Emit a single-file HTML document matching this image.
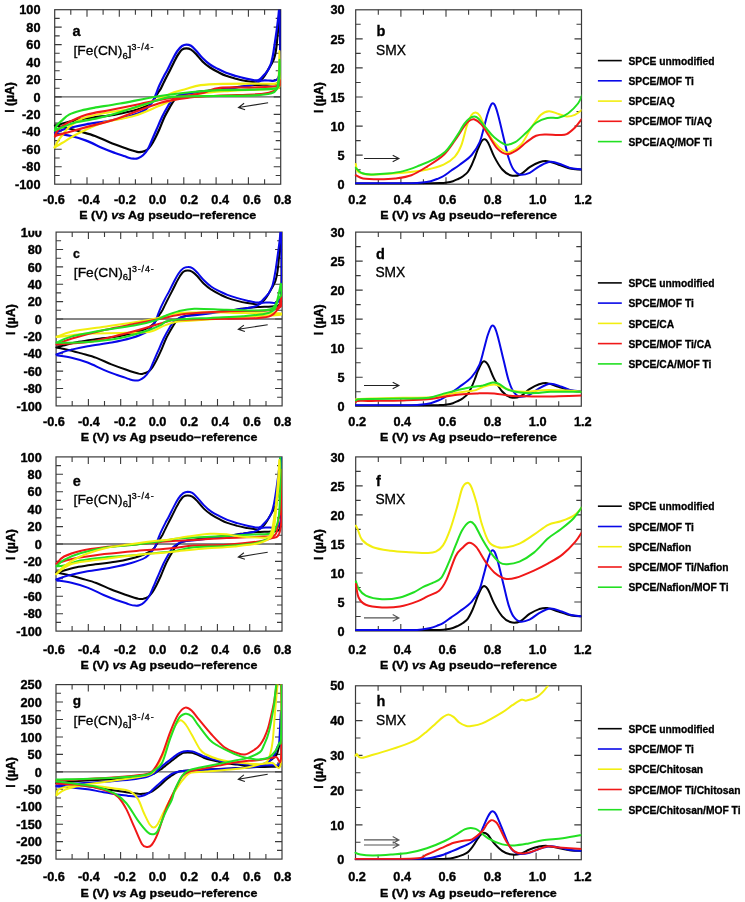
<!DOCTYPE html>
<html><head><meta charset="utf-8"><style>
html,body{margin:0;padding:0;background:#fff;}
svg{display:block;filter:blur(0.35px);}
text{font-family:"Liberation Sans", sans-serif;fill:#000;}
.tl{font-size:11.9px;font-weight:bold;stroke:#000;stroke-width:0.35px;}
.at{font-size:11.6px;font-weight:bold;stroke:#000;stroke-width:0.35px;}
.yt{font-size:12.2px;font-weight:bold;stroke:#000;stroke-width:0.35px;}
.pl{font-size:14.5px;font-weight:bold;stroke:#000;stroke-width:0.3px;}
.sm{font-size:13.8px;stroke:#000;stroke-width:0.3px;}
.lg{font-size:10.25px;font-weight:bold;stroke:#000;stroke-width:0.3px;}
</style></head><body>
<svg width="745" height="902" viewBox="0 0 745 902">
<defs><clipPath id="clipa"><rect x="51.7" y="9.7" width="229.0" height="174.5"/></clipPath><clipPath id="clipc"><rect x="53.1" y="232.1" width="229.0" height="173.8"/></clipPath><clipPath id="clipe"><rect x="53.0" y="456.9" width="229.0" height="174.2"/></clipPath><clipPath id="clipg"><rect x="53.0" y="684.6" width="229.0" height="174.5"/></clipPath><clipPath id="clipb"><rect x="352.7" y="9.8" width="228.8" height="174.4"/></clipPath><clipPath id="clipd"><rect x="352.7" y="232.1" width="228.6" height="174.1"/></clipPath><clipPath id="clipf"><rect x="352.7" y="456.9" width="228.6" height="174.1"/></clipPath><clipPath id="cliph"><rect x="352.5" y="685.8" width="228.8" height="173.9"/></clipPath></defs>
<rect width="745" height="902" fill="#fff"/>
<line x1="54.7" y1="96.9" x2="280.7" y2="96.9" stroke="#5e5e5e" stroke-width="1.3"/>
<path d="M54.7 175.5h5M280.7 175.5h-5M54.7 166.8h7M280.7 166.8h-7M54.7 158.0h5M280.7 158.0h-5M54.7 149.3h7M280.7 149.3h-7M54.7 140.6h5M280.7 140.6h-5M54.7 131.8h7M280.7 131.8h-7M54.7 123.1h5M280.7 123.1h-5M54.7 114.4h7M280.7 114.4h-7M54.7 105.7h5M280.7 105.7h-5M54.7 96.9h7M280.7 96.9h-7M54.7 88.2h5M280.7 88.2h-5M54.7 79.5h7M280.7 79.5h-7M54.7 70.8h5M280.7 70.8h-5M54.7 62.0h7M280.7 62.0h-7M54.7 53.3h5M280.7 53.3h-5M54.7 44.6h7M280.7 44.6h-7M54.7 35.9h5M280.7 35.9h-5M54.7 27.1h7M280.7 27.1h-7M54.7 18.4h5M280.7 18.4h-5M70.8 184.2v-5M70.8 9.7v5M87.0 184.2v-7M87.0 9.7v7M103.1 184.2v-5M103.1 9.7v5M119.3 184.2v-7M119.3 9.7v7M135.4 184.2v-5M135.4 9.7v5M151.6 184.2v-7M151.6 9.7v7M167.7 184.2v-5M167.7 9.7v5M183.8 184.2v-7M183.8 9.7v7M200.0 184.2v-5M200.0 9.7v5M216.1 184.2v-7M216.1 9.7v7M232.3 184.2v-5M232.3 9.7v5M248.4 184.2v-7M248.4 9.7v7M264.6 184.2v-5M264.6 9.7v5" stroke="#3a3a3a" stroke-width="1.1" fill="none"/>
<rect x="54.7" y="9.7" width="226.0" height="174.5" stroke="#3a3a3a" stroke-width="1.2" fill="none"/>
<text x="40.5" y="188.8" text-anchor="end" class="tl" textLength="25.48" lengthAdjust="spacingAndGlyphs">-100</text>
<text x="40.5" y="171.3" text-anchor="end" class="tl" textLength="18.40" lengthAdjust="spacingAndGlyphs">-80</text>
<text x="40.5" y="153.9" text-anchor="end" class="tl" textLength="18.40" lengthAdjust="spacingAndGlyphs">-60</text>
<text x="40.5" y="136.4" text-anchor="end" class="tl" textLength="18.40" lengthAdjust="spacingAndGlyphs">-40</text>
<text x="40.5" y="119.0" text-anchor="end" class="tl" textLength="18.40" lengthAdjust="spacingAndGlyphs">-20</text>
<text x="40.5" y="101.5" text-anchor="end" class="tl" textLength="7.08" lengthAdjust="spacingAndGlyphs">0</text>
<text x="40.5" y="84.1" text-anchor="end" class="tl" textLength="14.16" lengthAdjust="spacingAndGlyphs">20</text>
<text x="40.5" y="66.6" text-anchor="end" class="tl" textLength="14.16" lengthAdjust="spacingAndGlyphs">40</text>
<text x="40.5" y="49.2" text-anchor="end" class="tl" textLength="14.16" lengthAdjust="spacingAndGlyphs">60</text>
<text x="40.5" y="31.7" text-anchor="end" class="tl" textLength="14.16" lengthAdjust="spacingAndGlyphs">80</text>
<text x="40.5" y="14.3" text-anchor="end" class="tl" textLength="21.24" lengthAdjust="spacingAndGlyphs">100</text>
<text x="54.0" y="203.8" text-anchor="middle" class="tl" textLength="21.94" lengthAdjust="spacingAndGlyphs">-0.6</text>
<text x="88.9" y="203.8" text-anchor="middle" class="tl" textLength="21.94" lengthAdjust="spacingAndGlyphs">-0.4</text>
<text x="124.9" y="203.8" text-anchor="middle" class="tl" textLength="21.94" lengthAdjust="spacingAndGlyphs">-0.2</text>
<text x="157.5" y="203.8" text-anchor="middle" class="tl" textLength="17.70" lengthAdjust="spacingAndGlyphs">0.0</text>
<text x="189.2" y="203.8" text-anchor="middle" class="tl" textLength="17.70" lengthAdjust="spacingAndGlyphs">0.2</text>
<text x="220.2" y="203.8" text-anchor="middle" class="tl" textLength="17.70" lengthAdjust="spacingAndGlyphs">0.4</text>
<text x="251.9" y="203.8" text-anchor="middle" class="tl" textLength="17.70" lengthAdjust="spacingAndGlyphs">0.6</text>
<text x="282.6" y="203.8" text-anchor="middle" class="tl" textLength="17.70" lengthAdjust="spacingAndGlyphs">0.8</text>
<text x="167.7" y="218.8" text-anchor="middle" class="at" textLength="176.8" lengthAdjust="spacingAndGlyphs">E (V) <tspan font-style="italic">vs</tspan> Ag pseudo&#8722;reference</text>
<text transform="translate(13.6,97.5) rotate(-90)" text-anchor="middle" class="yt">I (&#181;A)</text>
<line x1="56.1" y1="319.0" x2="282.1" y2="319.0" stroke="#5e5e5e" stroke-width="1.3"/>
<path d="M56.1 397.2h5M282.1 397.2h-5M56.1 388.5h7M282.1 388.5h-7M56.1 379.8h5M282.1 379.8h-5M56.1 371.1h7M282.1 371.1h-7M56.1 362.4h5M282.1 362.4h-5M56.1 353.8h7M282.1 353.8h-7M56.1 345.1h5M282.1 345.1h-5M56.1 336.4h7M282.1 336.4h-7M56.1 327.7h5M282.1 327.7h-5M56.1 319.0h7M282.1 319.0h-7M56.1 310.3h5M282.1 310.3h-5M56.1 301.6h7M282.1 301.6h-7M56.1 292.9h5M282.1 292.9h-5M56.1 284.2h7M282.1 284.2h-7M56.1 275.5h5M282.1 275.5h-5M56.1 266.9h7M282.1 266.9h-7M56.1 258.2h5M282.1 258.2h-5M56.1 249.5h7M282.1 249.5h-7M56.1 240.8h5M282.1 240.8h-5M72.2 405.9v-5M72.2 232.1v5M88.4 405.9v-7M88.4 232.1v7M104.5 405.9v-5M104.5 232.1v5M120.7 405.9v-7M120.7 232.1v7M136.8 405.9v-5M136.8 232.1v5M153.0 405.9v-7M153.0 232.1v7M169.1 405.9v-5M169.1 232.1v5M185.2 405.9v-7M185.2 232.1v7M201.4 405.9v-5M201.4 232.1v5M217.5 405.9v-7M217.5 232.1v7M233.7 405.9v-5M233.7 232.1v5M249.8 405.9v-7M249.8 232.1v7M266.0 405.9v-5M266.0 232.1v5" stroke="#3a3a3a" stroke-width="1.1" fill="none"/>
<rect x="56.1" y="232.1" width="226.0" height="173.8" stroke="#3a3a3a" stroke-width="1.2" fill="none"/>
<text x="41.9" y="410.5" text-anchor="end" class="tl" textLength="25.48" lengthAdjust="spacingAndGlyphs">-100</text>
<text x="41.9" y="393.1" text-anchor="end" class="tl" textLength="18.40" lengthAdjust="spacingAndGlyphs">-80</text>
<text x="41.9" y="375.7" text-anchor="end" class="tl" textLength="18.40" lengthAdjust="spacingAndGlyphs">-60</text>
<text x="41.9" y="358.4" text-anchor="end" class="tl" textLength="18.40" lengthAdjust="spacingAndGlyphs">-40</text>
<text x="41.9" y="341.0" text-anchor="end" class="tl" textLength="18.40" lengthAdjust="spacingAndGlyphs">-20</text>
<text x="41.9" y="323.6" text-anchor="end" class="tl" textLength="7.08" lengthAdjust="spacingAndGlyphs">0</text>
<text x="41.9" y="306.2" text-anchor="end" class="tl" textLength="14.16" lengthAdjust="spacingAndGlyphs">20</text>
<text x="41.9" y="288.8" text-anchor="end" class="tl" textLength="14.16" lengthAdjust="spacingAndGlyphs">40</text>
<text x="41.9" y="271.5" text-anchor="end" class="tl" textLength="14.16" lengthAdjust="spacingAndGlyphs">60</text>
<text x="41.9" y="254.1" text-anchor="end" class="tl" textLength="14.16" lengthAdjust="spacingAndGlyphs">80</text>
<text x="41.9" y="236.7" text-anchor="end" class="tl" textLength="21.24" lengthAdjust="spacingAndGlyphs">100</text>
<text x="54.0" y="426.0" text-anchor="middle" class="tl" textLength="21.94" lengthAdjust="spacingAndGlyphs">-0.6</text>
<text x="88.9" y="426.0" text-anchor="middle" class="tl" textLength="21.94" lengthAdjust="spacingAndGlyphs">-0.4</text>
<text x="124.9" y="426.0" text-anchor="middle" class="tl" textLength="21.94" lengthAdjust="spacingAndGlyphs">-0.2</text>
<text x="157.5" y="426.0" text-anchor="middle" class="tl" textLength="17.70" lengthAdjust="spacingAndGlyphs">0.0</text>
<text x="189.2" y="426.0" text-anchor="middle" class="tl" textLength="17.70" lengthAdjust="spacingAndGlyphs">0.2</text>
<text x="220.2" y="426.0" text-anchor="middle" class="tl" textLength="17.70" lengthAdjust="spacingAndGlyphs">0.4</text>
<text x="251.9" y="426.0" text-anchor="middle" class="tl" textLength="17.70" lengthAdjust="spacingAndGlyphs">0.6</text>
<text x="282.6" y="426.0" text-anchor="middle" class="tl" textLength="17.70" lengthAdjust="spacingAndGlyphs">0.8</text>
<text x="169.1" y="441.0" text-anchor="middle" class="at" textLength="176.8" lengthAdjust="spacingAndGlyphs">E (V) <tspan font-style="italic">vs</tspan> Ag pseudo&#8722;reference</text>
<text transform="translate(15.0,319.6) rotate(-90)" text-anchor="middle" class="yt">I (&#181;A)</text>
<line x1="56.0" y1="544.0" x2="282.0" y2="544.0" stroke="#5e5e5e" stroke-width="1.3"/>
<path d="M56.0 622.4h5M282.0 622.4h-5M56.0 613.7h7M282.0 613.7h-7M56.0 605.0h5M282.0 605.0h-5M56.0 596.3h7M282.0 596.3h-7M56.0 587.5h5M282.0 587.5h-5M56.0 578.8h7M282.0 578.8h-7M56.0 570.1h5M282.0 570.1h-5M56.0 561.4h7M282.0 561.4h-7M56.0 552.7h5M282.0 552.7h-5M56.0 544.0h7M282.0 544.0h-7M56.0 535.3h5M282.0 535.3h-5M56.0 526.6h7M282.0 526.6h-7M56.0 517.9h5M282.0 517.9h-5M56.0 509.2h7M282.0 509.2h-7M56.0 500.4h5M282.0 500.4h-5M56.0 491.7h7M282.0 491.7h-7M56.0 483.0h5M282.0 483.0h-5M56.0 474.3h7M282.0 474.3h-7M56.0 465.6h5M282.0 465.6h-5M72.1 631.1v-5M72.1 456.9v5M88.3 631.1v-7M88.3 456.9v7M104.4 631.1v-5M104.4 456.9v5M120.6 631.1v-7M120.6 456.9v7M136.7 631.1v-5M136.7 456.9v5M152.9 631.1v-7M152.9 456.9v7M169.0 631.1v-5M169.0 456.9v5M185.1 631.1v-7M185.1 456.9v7M201.3 631.1v-5M201.3 456.9v5M217.4 631.1v-7M217.4 456.9v7M233.6 631.1v-5M233.6 456.9v5M249.7 631.1v-7M249.7 456.9v7M265.9 631.1v-5M265.9 456.9v5" stroke="#3a3a3a" stroke-width="1.1" fill="none"/>
<rect x="56.0" y="456.9" width="226.0" height="174.2" stroke="#3a3a3a" stroke-width="1.2" fill="none"/>
<text x="41.8" y="635.7" text-anchor="end" class="tl" textLength="25.48" lengthAdjust="spacingAndGlyphs">-100</text>
<text x="41.8" y="618.3" text-anchor="end" class="tl" textLength="18.40" lengthAdjust="spacingAndGlyphs">-80</text>
<text x="41.8" y="600.9" text-anchor="end" class="tl" textLength="18.40" lengthAdjust="spacingAndGlyphs">-60</text>
<text x="41.8" y="583.4" text-anchor="end" class="tl" textLength="18.40" lengthAdjust="spacingAndGlyphs">-40</text>
<text x="41.8" y="566.0" text-anchor="end" class="tl" textLength="18.40" lengthAdjust="spacingAndGlyphs">-20</text>
<text x="41.8" y="548.6" text-anchor="end" class="tl" textLength="7.08" lengthAdjust="spacingAndGlyphs">0</text>
<text x="41.8" y="531.2" text-anchor="end" class="tl" textLength="14.16" lengthAdjust="spacingAndGlyphs">20</text>
<text x="41.8" y="513.8" text-anchor="end" class="tl" textLength="14.16" lengthAdjust="spacingAndGlyphs">40</text>
<text x="41.8" y="496.3" text-anchor="end" class="tl" textLength="14.16" lengthAdjust="spacingAndGlyphs">60</text>
<text x="41.8" y="478.9" text-anchor="end" class="tl" textLength="14.16" lengthAdjust="spacingAndGlyphs">80</text>
<text x="41.8" y="461.5" text-anchor="end" class="tl" textLength="21.24" lengthAdjust="spacingAndGlyphs">100</text>
<text x="54.0" y="653.5" text-anchor="middle" class="tl" textLength="21.94" lengthAdjust="spacingAndGlyphs">-0.6</text>
<text x="88.9" y="653.5" text-anchor="middle" class="tl" textLength="21.94" lengthAdjust="spacingAndGlyphs">-0.4</text>
<text x="124.9" y="653.5" text-anchor="middle" class="tl" textLength="21.94" lengthAdjust="spacingAndGlyphs">-0.2</text>
<text x="157.5" y="653.5" text-anchor="middle" class="tl" textLength="17.70" lengthAdjust="spacingAndGlyphs">0.0</text>
<text x="189.2" y="653.5" text-anchor="middle" class="tl" textLength="17.70" lengthAdjust="spacingAndGlyphs">0.2</text>
<text x="220.2" y="653.5" text-anchor="middle" class="tl" textLength="17.70" lengthAdjust="spacingAndGlyphs">0.4</text>
<text x="251.9" y="653.5" text-anchor="middle" class="tl" textLength="17.70" lengthAdjust="spacingAndGlyphs">0.6</text>
<text x="282.6" y="653.5" text-anchor="middle" class="tl" textLength="17.70" lengthAdjust="spacingAndGlyphs">0.8</text>
<text x="169.0" y="668.5" text-anchor="middle" class="at" textLength="176.8" lengthAdjust="spacingAndGlyphs">E (V) <tspan font-style="italic">vs</tspan> Ag pseudo&#8722;reference</text>
<text transform="translate(14.9,544.6) rotate(-90)" text-anchor="middle" class="yt">I (&#181;A)</text>
<line x1="56.0" y1="771.9" x2="282.0" y2="771.9" stroke="#5e5e5e" stroke-width="1.3"/>
<path d="M56.0 850.4h5M282.0 850.4h-5M56.0 841.6h7M282.0 841.6h-7M56.0 832.9h5M282.0 832.9h-5M56.0 824.2h7M282.0 824.2h-7M56.0 815.5h5M282.0 815.5h-5M56.0 806.8h7M282.0 806.8h-7M56.0 798.0h5M282.0 798.0h-5M56.0 789.3h7M282.0 789.3h-7M56.0 780.6h5M282.0 780.6h-5M56.0 771.9h7M282.0 771.9h-7M56.0 763.1h5M282.0 763.1h-5M56.0 754.4h7M282.0 754.4h-7M56.0 745.7h5M282.0 745.7h-5M56.0 737.0h7M282.0 737.0h-7M56.0 728.2h5M282.0 728.2h-5M56.0 719.5h7M282.0 719.5h-7M56.0 710.8h5M282.0 710.8h-5M56.0 702.0h7M282.0 702.0h-7M56.0 693.3h5M282.0 693.3h-5M72.1 859.1v-5M72.1 684.6v5M88.3 859.1v-7M88.3 684.6v7M104.4 859.1v-5M104.4 684.6v5M120.6 859.1v-7M120.6 684.6v7M136.7 859.1v-5M136.7 684.6v5M152.9 859.1v-7M152.9 684.6v7M169.0 859.1v-5M169.0 684.6v5M185.1 859.1v-7M185.1 684.6v7M201.3 859.1v-5M201.3 684.6v5M217.4 859.1v-7M217.4 684.6v7M233.6 859.1v-5M233.6 684.6v5M249.7 859.1v-7M249.7 684.6v7M265.9 859.1v-5M265.9 684.6v5" stroke="#3a3a3a" stroke-width="1.1" fill="none"/>
<rect x="56.0" y="684.6" width="226.0" height="174.5" stroke="#3a3a3a" stroke-width="1.2" fill="none"/>
<text x="41.8" y="863.7" text-anchor="end" class="tl" textLength="25.48" lengthAdjust="spacingAndGlyphs">-250</text>
<text x="41.8" y="846.2" text-anchor="end" class="tl" textLength="25.48" lengthAdjust="spacingAndGlyphs">-200</text>
<text x="41.8" y="828.8" text-anchor="end" class="tl" textLength="25.48" lengthAdjust="spacingAndGlyphs">-150</text>
<text x="41.8" y="811.4" text-anchor="end" class="tl" textLength="25.48" lengthAdjust="spacingAndGlyphs">-100</text>
<text x="41.8" y="793.9" text-anchor="end" class="tl" textLength="18.40" lengthAdjust="spacingAndGlyphs">-50</text>
<text x="41.8" y="776.5" text-anchor="end" class="tl" textLength="7.08" lengthAdjust="spacingAndGlyphs">0</text>
<text x="41.8" y="759.0" text-anchor="end" class="tl" textLength="14.16" lengthAdjust="spacingAndGlyphs">50</text>
<text x="41.8" y="741.6" text-anchor="end" class="tl" textLength="21.24" lengthAdjust="spacingAndGlyphs">100</text>
<text x="41.8" y="724.1" text-anchor="end" class="tl" textLength="21.24" lengthAdjust="spacingAndGlyphs">150</text>
<text x="41.8" y="706.6" text-anchor="end" class="tl" textLength="21.24" lengthAdjust="spacingAndGlyphs">200</text>
<text x="41.8" y="689.2" text-anchor="end" class="tl" textLength="21.24" lengthAdjust="spacingAndGlyphs">250</text>
<text x="54.0" y="881.2" text-anchor="middle" class="tl" textLength="21.94" lengthAdjust="spacingAndGlyphs">-0.6</text>
<text x="88.9" y="881.2" text-anchor="middle" class="tl" textLength="21.94" lengthAdjust="spacingAndGlyphs">-0.4</text>
<text x="124.9" y="881.2" text-anchor="middle" class="tl" textLength="21.94" lengthAdjust="spacingAndGlyphs">-0.2</text>
<text x="157.5" y="881.2" text-anchor="middle" class="tl" textLength="17.70" lengthAdjust="spacingAndGlyphs">0.0</text>
<text x="189.2" y="881.2" text-anchor="middle" class="tl" textLength="17.70" lengthAdjust="spacingAndGlyphs">0.2</text>
<text x="220.2" y="881.2" text-anchor="middle" class="tl" textLength="17.70" lengthAdjust="spacingAndGlyphs">0.4</text>
<text x="251.9" y="881.2" text-anchor="middle" class="tl" textLength="17.70" lengthAdjust="spacingAndGlyphs">0.6</text>
<text x="282.6" y="881.2" text-anchor="middle" class="tl" textLength="17.70" lengthAdjust="spacingAndGlyphs">0.8</text>
<text x="169.0" y="896.5" text-anchor="middle" class="at" textLength="176.8" lengthAdjust="spacingAndGlyphs">E (V) <tspan font-style="italic">vs</tspan> Ag pseudo&#8722;reference</text>
<text transform="translate(14.9,772.5) rotate(-90)" text-anchor="middle" class="yt">I (&#181;A)</text>
<path d="M355.7 169.7h5M581.5 169.7h-5M355.7 155.1h7M581.5 155.1h-7M355.7 140.6h5M581.5 140.6h-5M355.7 126.1h7M581.5 126.1h-7M355.7 111.5h5M581.5 111.5h-5M355.7 97.0h7M581.5 97.0h-7M355.7 82.5h5M581.5 82.5h-5M355.7 67.9h7M581.5 67.9h-7M355.7 53.4h5M581.5 53.4h-5M355.7 38.9h7M581.5 38.9h-7M355.7 24.3h5M581.5 24.3h-5M378.3 184.2v-5M378.3 9.8v5M400.9 184.2v-7M400.9 9.8v7M423.4 184.2v-5M423.4 9.8v5M446.0 184.2v-7M446.0 9.8v7M468.6 184.2v-5M468.6 9.8v5M491.2 184.2v-7M491.2 9.8v7M513.8 184.2v-5M513.8 9.8v5M536.3 184.2v-7M536.3 9.8v7M558.9 184.2v-5M558.9 9.8v5" stroke="#3a3a3a" stroke-width="1.1" fill="none"/>
<rect x="355.7" y="9.8" width="225.8" height="174.4" stroke="#3a3a3a" stroke-width="1.2" fill="none"/>
<text x="344.6" y="188.8" text-anchor="end" class="tl" textLength="7.08" lengthAdjust="spacingAndGlyphs">0</text>
<text x="344.6" y="159.7" text-anchor="end" class="tl" textLength="7.08" lengthAdjust="spacingAndGlyphs">5</text>
<text x="344.6" y="130.7" text-anchor="end" class="tl" textLength="14.16" lengthAdjust="spacingAndGlyphs">10</text>
<text x="344.6" y="101.6" text-anchor="end" class="tl" textLength="14.16" lengthAdjust="spacingAndGlyphs">15</text>
<text x="344.6" y="72.5" text-anchor="end" class="tl" textLength="14.16" lengthAdjust="spacingAndGlyphs">20</text>
<text x="344.6" y="43.5" text-anchor="end" class="tl" textLength="14.16" lengthAdjust="spacingAndGlyphs">25</text>
<text x="344.6" y="14.4" text-anchor="end" class="tl" textLength="14.16" lengthAdjust="spacingAndGlyphs">30</text>
<text x="357.2" y="203.8" text-anchor="middle" class="tl" textLength="17.70" lengthAdjust="spacingAndGlyphs">0.2</text>
<text x="402.4" y="203.8" text-anchor="middle" class="tl" textLength="17.70" lengthAdjust="spacingAndGlyphs">0.4</text>
<text x="447.5" y="203.8" text-anchor="middle" class="tl" textLength="17.70" lengthAdjust="spacingAndGlyphs">0.6</text>
<text x="492.7" y="203.8" text-anchor="middle" class="tl" textLength="17.70" lengthAdjust="spacingAndGlyphs">0.8</text>
<text x="537.8" y="203.8" text-anchor="middle" class="tl" textLength="17.70" lengthAdjust="spacingAndGlyphs">1.0</text>
<text x="583.0" y="203.8" text-anchor="middle" class="tl" textLength="17.70" lengthAdjust="spacingAndGlyphs">1.2</text>
<text x="468.6" y="218.8" text-anchor="middle" class="at" textLength="176.8" lengthAdjust="spacingAndGlyphs">E (V) <tspan font-style="italic">vs</tspan> Ag pseudo&#8722;reference</text>
<text transform="translate(322.8,97.6) rotate(-90)" text-anchor="middle" class="yt">I (&#181;A)</text>
<path d="M355.7 391.7h5M581.3 391.7h-5M355.7 377.2h7M581.3 377.2h-7M355.7 362.7h5M581.3 362.7h-5M355.7 348.2h7M581.3 348.2h-7M355.7 333.7h5M581.3 333.7h-5M355.7 319.1h7M581.3 319.1h-7M355.7 304.6h5M581.3 304.6h-5M355.7 290.1h7M581.3 290.1h-7M355.7 275.6h5M581.3 275.6h-5M355.7 261.1h7M581.3 261.1h-7M355.7 246.6h5M581.3 246.6h-5M378.3 406.2v-5M378.3 232.1v5M400.8 406.2v-7M400.8 232.1v7M423.4 406.2v-5M423.4 232.1v5M445.9 406.2v-7M445.9 232.1v7M468.5 406.2v-5M468.5 232.1v5M491.1 406.2v-7M491.1 232.1v7M513.6 406.2v-5M513.6 232.1v5M536.2 406.2v-7M536.2 232.1v7M558.7 406.2v-5M558.7 232.1v5" stroke="#3a3a3a" stroke-width="1.1" fill="none"/>
<rect x="355.7" y="232.1" width="225.6" height="174.1" stroke="#3a3a3a" stroke-width="1.2" fill="none"/>
<text x="344.6" y="410.8" text-anchor="end" class="tl" textLength="7.08" lengthAdjust="spacingAndGlyphs">0</text>
<text x="344.6" y="381.8" text-anchor="end" class="tl" textLength="7.08" lengthAdjust="spacingAndGlyphs">5</text>
<text x="344.6" y="352.8" text-anchor="end" class="tl" textLength="14.16" lengthAdjust="spacingAndGlyphs">10</text>
<text x="344.6" y="323.8" text-anchor="end" class="tl" textLength="14.16" lengthAdjust="spacingAndGlyphs">15</text>
<text x="344.6" y="294.7" text-anchor="end" class="tl" textLength="14.16" lengthAdjust="spacingAndGlyphs">20</text>
<text x="344.6" y="265.7" text-anchor="end" class="tl" textLength="14.16" lengthAdjust="spacingAndGlyphs">25</text>
<text x="344.6" y="236.7" text-anchor="end" class="tl" textLength="14.16" lengthAdjust="spacingAndGlyphs">30</text>
<text x="357.2" y="426.0" text-anchor="middle" class="tl" textLength="17.70" lengthAdjust="spacingAndGlyphs">0.2</text>
<text x="402.3" y="426.0" text-anchor="middle" class="tl" textLength="17.70" lengthAdjust="spacingAndGlyphs">0.4</text>
<text x="447.4" y="426.0" text-anchor="middle" class="tl" textLength="17.70" lengthAdjust="spacingAndGlyphs">0.6</text>
<text x="492.6" y="426.0" text-anchor="middle" class="tl" textLength="17.70" lengthAdjust="spacingAndGlyphs">0.8</text>
<text x="537.7" y="426.0" text-anchor="middle" class="tl" textLength="17.70" lengthAdjust="spacingAndGlyphs">1.0</text>
<text x="582.8" y="426.0" text-anchor="middle" class="tl" textLength="17.70" lengthAdjust="spacingAndGlyphs">1.2</text>
<text x="468.5" y="441.1" text-anchor="middle" class="at" textLength="176.8" lengthAdjust="spacingAndGlyphs">E (V) <tspan font-style="italic">vs</tspan> Ag pseudo&#8722;reference</text>
<text transform="translate(322.8,319.8) rotate(-90)" text-anchor="middle" class="yt">I (&#181;A)</text>
<path d="M355.7 616.5h5M581.3 616.5h-5M355.7 602.0h7M581.3 602.0h-7M355.7 587.5h5M581.3 587.5h-5M355.7 573.0h7M581.3 573.0h-7M355.7 558.5h5M581.3 558.5h-5M355.7 544.0h7M581.3 544.0h-7M355.7 529.4h5M581.3 529.4h-5M355.7 514.9h7M581.3 514.9h-7M355.7 500.4h5M581.3 500.4h-5M355.7 485.9h7M581.3 485.9h-7M355.7 471.4h5M581.3 471.4h-5M378.3 631.0v-5M378.3 456.9v5M400.8 631.0v-7M400.8 456.9v7M423.4 631.0v-5M423.4 456.9v5M445.9 631.0v-7M445.9 456.9v7M468.5 631.0v-5M468.5 456.9v5M491.1 631.0v-7M491.1 456.9v7M513.6 631.0v-5M513.6 456.9v5M536.2 631.0v-7M536.2 456.9v7M558.7 631.0v-5M558.7 456.9v5" stroke="#3a3a3a" stroke-width="1.1" fill="none"/>
<rect x="355.7" y="456.9" width="225.6" height="174.1" stroke="#3a3a3a" stroke-width="1.2" fill="none"/>
<text x="344.6" y="635.6" text-anchor="end" class="tl" textLength="7.08" lengthAdjust="spacingAndGlyphs">0</text>
<text x="344.6" y="606.6" text-anchor="end" class="tl" textLength="7.08" lengthAdjust="spacingAndGlyphs">5</text>
<text x="344.6" y="577.6" text-anchor="end" class="tl" textLength="14.16" lengthAdjust="spacingAndGlyphs">10</text>
<text x="344.6" y="548.6" text-anchor="end" class="tl" textLength="14.16" lengthAdjust="spacingAndGlyphs">15</text>
<text x="344.6" y="519.5" text-anchor="end" class="tl" textLength="14.16" lengthAdjust="spacingAndGlyphs">20</text>
<text x="344.6" y="490.5" text-anchor="end" class="tl" textLength="14.16" lengthAdjust="spacingAndGlyphs">25</text>
<text x="344.6" y="461.5" text-anchor="end" class="tl" textLength="14.16" lengthAdjust="spacingAndGlyphs">30</text>
<text x="357.2" y="653.5" text-anchor="middle" class="tl" textLength="17.70" lengthAdjust="spacingAndGlyphs">0.2</text>
<text x="402.3" y="653.5" text-anchor="middle" class="tl" textLength="17.70" lengthAdjust="spacingAndGlyphs">0.4</text>
<text x="447.4" y="653.5" text-anchor="middle" class="tl" textLength="17.70" lengthAdjust="spacingAndGlyphs">0.6</text>
<text x="492.6" y="653.5" text-anchor="middle" class="tl" textLength="17.70" lengthAdjust="spacingAndGlyphs">0.8</text>
<text x="537.7" y="653.5" text-anchor="middle" class="tl" textLength="17.70" lengthAdjust="spacingAndGlyphs">1.0</text>
<text x="582.8" y="653.5" text-anchor="middle" class="tl" textLength="17.70" lengthAdjust="spacingAndGlyphs">1.2</text>
<text x="468.5" y="668.5" text-anchor="middle" class="at" textLength="176.8" lengthAdjust="spacingAndGlyphs">E (V) <tspan font-style="italic">vs</tspan> Ag pseudo&#8722;reference</text>
<text transform="translate(322.8,544.6) rotate(-90)" text-anchor="middle" class="yt">I (&#181;A)</text>
<path d="M355.5 842.3h5M581.3 842.3h-5M355.5 824.9h7M581.3 824.9h-7M355.5 807.5h5M581.3 807.5h-5M355.5 790.1h7M581.3 790.1h-7M355.5 772.8h5M581.3 772.8h-5M355.5 755.4h7M581.3 755.4h-7M355.5 738.0h5M581.3 738.0h-5M355.5 720.6h7M581.3 720.6h-7M355.5 703.2h5M581.3 703.2h-5M378.1 859.7v-5M378.1 685.8v5M400.7 859.7v-7M400.7 685.8v7M423.2 859.7v-5M423.2 685.8v5M445.8 859.7v-7M445.8 685.8v7M468.4 859.7v-5M468.4 685.8v5M491.0 859.7v-7M491.0 685.8v7M513.6 859.7v-5M513.6 685.8v5M536.1 859.7v-7M536.1 685.8v7M558.7 859.7v-5M558.7 685.8v5" stroke="#3a3a3a" stroke-width="1.1" fill="none"/>
<rect x="355.5" y="685.8" width="225.8" height="173.9" stroke="#3a3a3a" stroke-width="1.2" fill="none"/>
<text x="344.4" y="864.3" text-anchor="end" class="tl" textLength="7.08" lengthAdjust="spacingAndGlyphs">0</text>
<text x="344.4" y="829.5" text-anchor="end" class="tl" textLength="14.16" lengthAdjust="spacingAndGlyphs">10</text>
<text x="344.4" y="794.7" text-anchor="end" class="tl" textLength="14.16" lengthAdjust="spacingAndGlyphs">20</text>
<text x="344.4" y="760.0" text-anchor="end" class="tl" textLength="14.16" lengthAdjust="spacingAndGlyphs">30</text>
<text x="344.4" y="725.2" text-anchor="end" class="tl" textLength="14.16" lengthAdjust="spacingAndGlyphs">40</text>
<text x="344.4" y="690.4" text-anchor="end" class="tl" textLength="14.16" lengthAdjust="spacingAndGlyphs">50</text>
<text x="357.0" y="881.2" text-anchor="middle" class="tl" textLength="17.70" lengthAdjust="spacingAndGlyphs">0.2</text>
<text x="402.2" y="881.2" text-anchor="middle" class="tl" textLength="17.70" lengthAdjust="spacingAndGlyphs">0.4</text>
<text x="447.3" y="881.2" text-anchor="middle" class="tl" textLength="17.70" lengthAdjust="spacingAndGlyphs">0.6</text>
<text x="492.5" y="881.2" text-anchor="middle" class="tl" textLength="17.70" lengthAdjust="spacingAndGlyphs">0.8</text>
<text x="537.6" y="881.2" text-anchor="middle" class="tl" textLength="17.70" lengthAdjust="spacingAndGlyphs">1.0</text>
<text x="582.8" y="881.2" text-anchor="middle" class="tl" textLength="17.70" lengthAdjust="spacingAndGlyphs">1.2</text>
<text x="468.4" y="896.5" text-anchor="middle" class="at" textLength="176.8" lengthAdjust="spacingAndGlyphs">E (V) <tspan font-style="italic">vs</tspan> Ag pseudo&#8722;reference</text>
<text transform="translate(322.6,773.4) rotate(-90)" text-anchor="middle" class="yt">I (&#181;A)</text>
<g clip-path="url(#clipa)">
<path d="M55.0 125.5C56.1 125.2 58.1 124.7 61.8 123.7C65.5 122.8 71.9 120.9 77.3 119.8C82.7 118.7 87.9 118.1 94.0 117.3C100.1 116.5 108.0 115.8 114.0 114.8C120.0 113.8 125.7 112.5 130.0 111.5C134.3 110.5 137.3 109.4 140.0 108.5C142.7 107.6 144.0 107.1 146.0 106.0C148.0 104.9 150.3 103.7 152.0 102.0C153.7 100.3 154.9 97.7 156.0 96.0C157.1 94.3 157.7 93.3 158.5 92.0C159.3 90.7 160.1 89.9 161.0 88.2C161.9 86.5 163.0 84.0 164.0 82.0C165.0 80.0 165.9 78.1 167.0 76.0C168.1 73.9 169.1 72.1 170.4 69.4C171.8 66.7 173.8 62.6 175.1 60.0C176.4 57.4 177.3 55.7 178.5 54.0C179.7 52.3 180.7 50.5 182.0 49.6C183.3 48.7 184.9 48.4 186.4 48.4C187.9 48.4 189.4 48.7 191.0 49.6C192.6 50.5 194.1 52.0 196.0 54.0C197.9 56.0 200.2 59.2 202.5 61.5C204.8 63.8 207.4 65.8 210.0 67.5C212.6 69.2 215.3 70.6 218.0 72.0C220.7 73.4 223.0 74.7 226.0 75.8C229.0 76.9 232.7 77.9 236.0 78.8C239.3 79.7 243.2 80.5 246.0 81.0C248.8 81.5 250.8 81.8 252.6 82.0C254.4 82.2 255.6 82.5 257.0 82.2C258.4 81.9 259.7 81.1 261.0 80.0C262.3 78.9 263.5 77.2 264.7 75.5C265.9 73.8 266.9 71.9 268.0 70.0C269.1 68.1 270.5 65.9 271.5 64.0C272.5 62.1 273.4 60.8 274.1 58.5C274.9 56.2 275.4 53.9 276.0 50.0C276.6 46.1 277.1 40.0 277.6 35.0C278.1 30.0 278.5 24.2 278.8 20.0C279.1 15.8 279.4 6.2 279.6 9.5C279.8 12.8 280.2 29.9 280.2 40.0C280.2 50.1 280.2 62.9 279.8 70.0C279.4 77.1 279.6 80.1 278.0 82.5C276.4 84.9 273.7 83.9 270.0 84.3C266.3 84.7 260.5 84.6 255.8 85.0C251.1 85.4 246.3 86.0 242.0 86.5C237.7 87.0 235.1 87.5 229.8 88.2C224.5 88.9 216.6 89.7 210.0 90.5C203.4 91.3 195.2 92.2 190.0 93.0C184.8 93.8 181.5 94.5 179.0 95.5C176.5 96.5 176.4 97.2 175.0 99.0C173.6 100.8 172.2 103.0 170.5 106.0C168.8 109.0 166.3 113.2 164.5 117.0C162.7 120.8 161.1 125.4 159.5 129.0C157.9 132.6 156.4 135.8 155.0 138.5C153.6 141.2 152.3 143.6 151.0 145.5C149.7 147.4 148.5 148.8 147.0 149.8C145.5 150.9 143.7 151.5 142.0 151.8C140.3 152.1 139.8 152.4 137.0 151.8C134.2 151.2 129.5 149.6 125.0 148.0C120.5 146.4 115.0 144.5 110.0 142.5C105.0 140.5 100.0 137.8 95.0 136.0C90.0 134.2 84.8 132.9 80.0 131.5C75.2 130.1 70.2 128.8 66.0 127.8C61.8 126.8 56.8 125.9 55.0 125.5" stroke="#050505" stroke-width="2.2" fill="none" stroke-linejoin="round" stroke-linecap="round"/>
<path d="M55.0 132.5C56.2 132.1 59.5 130.8 62.0 130.0C64.5 129.2 66.1 128.7 70.1 127.7C74.1 126.8 79.5 125.5 86.2 124.3C92.9 123.1 103.1 121.9 110.4 120.5C117.7 119.1 124.4 117.7 130.0 116.0C135.6 114.3 140.9 112.3 144.2 110.5C147.5 108.7 148.4 106.7 150.0 105.0C151.6 103.3 152.5 102.3 153.5 100.5C154.5 98.7 155.2 96.0 156.0 94.0C156.8 92.0 157.4 90.2 158.2 88.2C159.0 86.2 160.0 84.0 161.0 82.0C162.0 80.0 162.9 78.1 164.0 76.0C165.1 73.9 166.2 72.1 167.6 69.4C169.0 66.7 170.7 63.0 172.3 60.0C173.9 57.0 175.4 53.8 177.0 51.5C178.6 49.2 180.4 47.1 182.0 46.0C183.6 44.9 184.9 44.6 186.4 44.6C187.9 44.6 189.4 44.8 191.0 45.8C192.6 46.8 194.1 48.5 196.0 50.5C197.9 52.5 200.2 55.7 202.5 58.0C204.8 60.3 207.4 62.7 210.0 64.5C212.6 66.3 215.3 67.6 218.0 69.0C220.7 70.4 223.0 71.6 226.0 72.8C229.0 74.0 232.7 75.0 236.0 76.0C239.3 77.0 242.9 77.9 246.0 78.6C249.1 79.3 252.4 80.0 254.4 80.3C256.4 80.6 257.0 80.4 258.0 80.2C259.0 80.0 259.4 79.8 260.4 78.9C261.4 78.0 262.9 76.3 264.0 75.0C265.1 73.7 266.3 72.7 267.3 71.2C268.3 69.7 269.3 67.6 270.0 66.0C270.7 64.4 270.9 64.0 271.5 61.7C272.1 59.4 272.8 56.5 273.5 52.0C274.2 47.5 275.2 40.3 276.0 35.0C276.8 29.7 277.4 24.3 278.0 20.0C278.6 15.7 279.1 5.7 279.5 9.0C279.9 12.3 280.1 29.8 280.2 40.0C280.3 50.2 280.6 63.3 280.0 70.0C279.4 76.7 278.5 78.2 276.5 80.0C274.5 81.8 270.6 80.4 268.0 80.5C265.4 80.6 263.8 80.1 261.2 80.8C258.6 81.5 255.8 83.7 252.6 84.7C249.4 85.7 246.1 86.0 242.3 86.6C238.5 87.2 236.9 87.5 229.8 88.5C222.8 89.5 207.5 91.6 200.0 92.5C192.5 93.4 188.7 93.5 185.0 94.0C181.3 94.5 180.2 94.8 178.0 95.8C175.8 96.8 173.7 98.3 172.0 100.0C170.3 101.7 169.7 103.2 168.0 106.0C166.3 108.8 163.9 113.0 162.0 117.0C160.1 121.0 158.0 126.2 156.3 130.0C154.6 133.8 153.4 136.8 152.0 140.0C150.6 143.2 149.5 146.4 148.0 149.0C146.5 151.6 144.7 153.8 143.0 155.3C141.3 156.9 139.6 157.7 138.0 158.3C136.4 158.9 135.2 158.8 133.6 158.7C132.0 158.6 130.0 158.1 128.6 157.7C127.2 157.3 127.3 157.1 125.0 156.3C122.7 155.5 118.8 154.4 115.0 153.0C111.2 151.6 107.1 150.1 102.3 148.0C97.5 145.9 91.6 142.6 86.2 140.6C80.8 138.6 75.2 137.0 70.1 135.8C65.0 134.6 58.0 133.8 55.6 133.4" stroke="#0808e8" stroke-width="2.2" fill="none" stroke-linejoin="round" stroke-linecap="round"/>
<path d="M54.5 147.5C55.1 146.4 56.8 143.0 58.0 141.0C59.2 139.0 60.0 138.1 62.0 135.6C64.0 133.1 66.7 128.9 70.1 126.1C73.5 123.2 76.8 120.6 82.2 118.5C87.6 116.4 93.6 115.2 102.3 113.5C111.0 111.8 125.4 110.3 134.5 108.0C143.6 105.7 150.5 102.3 157.1 99.7C163.7 97.1 169.2 94.2 174.0 92.4C178.8 90.6 181.6 90.2 186.0 89.0C190.4 87.8 194.1 86.1 200.6 85.2C207.1 84.3 215.5 84.1 225.0 83.8C234.5 83.5 249.0 83.6 257.5 83.6C266.0 83.6 272.3 84.2 275.8 83.6C279.3 83.0 277.9 83.9 278.5 80.0C279.1 76.1 279.1 64.8 279.3 60.0C279.5 55.2 279.5 49.8 279.6 51.5C279.7 53.2 279.8 64.2 279.8 70.0C279.8 75.8 280.1 82.9 279.5 86.0C278.9 89.1 279.2 87.9 276.0 88.5C272.8 89.1 267.7 89.1 260.0 89.5C252.3 89.9 240.0 90.1 230.0 90.8C220.0 91.5 209.3 92.0 200.0 93.5C190.7 95.0 180.9 97.6 174.0 99.7C167.1 101.8 165.3 103.4 158.7 106.1C152.1 108.8 143.9 113.0 134.5 115.8C125.1 118.6 111.7 120.0 102.3 123.0C92.9 126.0 84.9 130.2 78.2 133.5C71.5 136.8 66.0 140.7 62.0 143.0C58.0 145.3 55.8 146.8 54.5 147.5" stroke="#f2ee10" stroke-width="2.2" fill="none" stroke-linejoin="round" stroke-linecap="round"/>
<path d="M55.0 136.5C55.5 135.4 56.1 132.1 58.0 130.0C59.9 127.9 61.4 126.2 66.1 123.7C70.8 121.2 78.8 117.1 86.2 114.8C93.6 112.5 101.4 111.8 110.4 110.0C119.4 108.2 130.1 106.0 140.0 104.0C149.9 102.0 160.0 99.8 170.0 98.0C180.0 96.2 191.7 95.2 200.0 93.5C208.3 91.8 210.9 88.9 220.0 87.9C229.1 86.9 244.7 87.8 254.4 87.5C264.1 87.2 274.2 87.0 278.4 85.8C282.6 84.5 279.2 80.3 279.5 80.0C279.8 79.7 280.3 82.8 280.0 84.0C279.7 85.2 278.6 85.8 277.6 87.0C276.6 88.2 276.5 89.8 274.1 90.9C271.7 92.1 269.1 93.2 263.0 93.9C256.9 94.6 244.4 94.9 237.2 95.2C230.0 95.5 227.9 95.3 220.0 95.7C212.1 96.1 200.0 96.3 190.0 97.5C180.0 98.7 172.7 99.3 160.0 103.0C147.3 106.7 125.6 115.9 114.0 119.7C102.4 123.5 97.5 124.1 90.2 126.1C82.9 128.1 75.5 130.2 70.1 131.7C64.7 133.2 60.5 134.2 58.0 135.0C55.5 135.8 55.5 136.2 55.0 136.5" stroke="#f01818" stroke-width="2.2" fill="none" stroke-linejoin="round" stroke-linecap="round"/>
<path d="M55.0 130.5C55.2 129.8 55.3 127.8 56.4 126.1C57.5 124.4 59.6 122.5 61.8 120.6C64.0 118.6 66.3 116.1 69.5 114.4C72.7 112.7 77.1 111.6 81.2 110.5C85.3 109.4 87.5 109.0 94.0 107.8C100.5 106.6 109.0 105.5 120.0 103.5C131.0 101.5 147.9 97.9 160.0 96.0C172.1 94.1 182.5 93.0 192.5 92.0C202.5 91.0 209.7 90.5 220.0 90.1C230.3 89.7 245.1 89.9 254.4 89.6C263.7 89.3 271.8 89.3 275.8 88.4C279.8 87.5 277.9 87.3 278.5 84.0C279.1 80.7 279.1 72.6 279.3 68.6C279.5 64.6 279.6 58.9 279.6 60.0C279.7 61.1 279.8 71.4 279.6 75.0C279.4 78.6 278.9 79.1 278.4 81.5C277.9 83.9 277.8 87.2 276.7 89.2C275.6 91.2 275.2 92.3 271.5 93.3C267.8 94.3 263.0 95.0 254.4 95.4C245.8 95.9 233.1 95.8 220.0 96.0C206.9 96.2 186.0 96.0 176.0 96.6C166.0 97.2 170.3 96.6 160.0 99.5C149.7 102.4 125.0 110.8 114.0 114.0C103.0 117.2 101.1 117.4 94.3 118.9C87.5 120.4 78.8 121.5 73.4 123.0C68.0 124.5 64.6 126.5 61.8 127.6C59.0 128.7 57.5 129.0 56.4 129.5C55.3 130.0 55.2 130.3 55.0 130.5" stroke="#22e022" stroke-width="2.2" fill="none" stroke-linejoin="round" stroke-linecap="round"/>
</g>
<g clip-path="url(#clipb)">
<path d="M356.0 183.4C363.3 183.4 387.7 183.4 400.0 183.4C412.3 183.4 423.3 183.4 430.0 183.3C436.7 183.2 437.2 183.2 440.0 183.1C442.8 183.0 444.8 182.8 447.0 182.5C449.2 182.2 451.1 181.8 453.0 181.2C454.9 180.6 456.4 179.8 458.1 179.0C459.8 178.2 461.4 177.4 463.0 176.2C464.6 175.0 466.4 173.9 467.8 172.0C469.2 170.1 470.5 167.5 471.7 165.0C472.9 162.5 473.9 159.7 475.0 157.0C476.1 154.3 476.8 151.5 478.1 148.6C479.4 145.7 481.3 140.8 482.9 139.7C484.5 138.6 485.9 139.4 487.8 142.2C489.7 145.0 491.8 152.0 494.2 156.6C496.6 161.2 499.6 166.4 502.3 169.5C505.0 172.6 507.4 174.3 510.3 175.2C513.2 176.1 516.8 176.0 520.0 174.7C523.2 173.3 526.5 169.2 529.7 167.1C532.9 165.0 536.3 163.3 539.3 162.3C542.2 161.3 544.2 160.8 547.4 161.2C550.6 161.6 554.6 163.4 558.6 164.7C562.6 165.9 567.6 167.9 571.5 168.7C575.4 169.5 580.2 169.4 582.0 169.5" stroke="#050505" stroke-width="2.0" fill="none" stroke-linejoin="round" stroke-linecap="round"/>
<path d="M356.0 183.3C363.3 183.3 390.7 183.3 400.0 183.3C409.3 183.3 408.3 183.3 412.0 183.2C415.7 183.1 418.9 182.9 422.0 182.6C425.1 182.3 428.2 181.8 430.7 181.2C433.2 180.6 434.9 179.9 437.0 179.0C439.1 178.1 441.3 177.4 443.6 176.0C445.9 174.6 448.3 172.7 451.0 170.8C453.7 168.9 456.2 167.3 459.7 164.7C463.1 162.1 468.4 158.8 471.7 155.0C475.0 151.2 477.7 146.8 479.7 142.2C481.7 137.6 482.5 132.5 483.9 127.7C485.2 122.9 486.5 117.2 487.8 113.2C489.1 109.2 490.4 105.3 491.6 104.0C492.8 102.7 493.8 103.3 494.9 105.3C496.0 107.3 496.8 110.2 498.3 115.8C499.8 121.4 502.2 131.8 503.9 138.9C505.6 146.0 507.1 153.2 508.7 158.3C510.3 163.4 511.6 166.8 513.5 169.5C515.4 172.2 517.3 174.1 520.0 174.7C522.7 175.2 526.5 174.2 529.7 172.8C532.9 171.4 535.8 168.1 539.3 166.3C542.8 164.5 546.8 162.1 550.6 161.8C554.4 161.5 558.4 163.6 561.9 164.7C565.4 165.8 568.1 167.4 571.5 168.2C574.9 169.0 580.2 169.3 582.0 169.5" stroke="#0808e8" stroke-width="2.0" fill="none" stroke-linejoin="round" stroke-linecap="round"/>
<path d="M355.8 163.9C356.1 165.1 356.2 169.5 357.4 171.1C358.6 172.7 360.7 172.9 363.0 173.5C365.3 174.1 364.4 174.8 371.1 174.7C377.8 174.6 393.9 173.7 403.3 172.8C412.7 171.9 420.8 170.8 427.5 169.5C434.2 168.2 439.0 166.8 443.6 164.7C448.2 162.5 451.9 159.8 454.9 156.6C457.8 153.4 459.3 150.5 461.3 145.4C463.3 140.3 465.1 131.1 466.8 126.0C468.5 120.9 470.2 117.1 471.7 114.8C473.2 112.5 474.4 112.3 475.7 112.4C477.0 112.5 477.9 112.8 479.7 115.6C481.4 118.4 483.8 124.9 486.2 129.3C488.6 133.7 491.2 138.6 494.2 142.2C497.1 145.8 501.2 149.4 503.9 151.0C506.6 152.6 507.4 153.0 510.3 151.8C513.2 150.6 518.1 147.8 521.6 143.8C525.1 139.8 528.1 132.5 531.3 127.7C534.5 122.9 537.9 117.5 540.9 114.8C543.9 112.0 546.0 111.3 549.0 111.2C552.0 111.1 555.6 113.1 558.6 114.0C561.6 114.9 564.0 116.3 566.7 116.4C569.4 116.5 572.2 115.9 574.8 114.8C577.3 113.7 580.8 110.7 582.0 109.9" stroke="#f2ee10" stroke-width="2.0" fill="none" stroke-linejoin="round" stroke-linecap="round"/>
<path d="M355.8 175.2C357.0 175.7 359.1 177.7 363.0 178.4C366.9 179.1 373.8 179.2 379.2 179.2C384.6 179.2 389.9 179.1 395.3 178.4C400.7 177.7 406.0 177.2 411.4 175.2C416.8 173.2 422.1 169.7 427.5 166.3C432.9 162.9 439.0 159.3 443.6 155.0C448.2 150.7 451.4 145.3 454.9 140.5C458.4 135.7 462.1 129.2 464.5 126.0C466.9 122.8 467.4 122.1 469.0 121.0C470.6 119.9 472.1 118.7 474.1 119.3C476.2 119.9 479.0 121.9 481.3 124.4C483.6 126.9 485.1 130.1 487.8 134.1C490.5 138.1 494.2 145.2 497.4 148.6C500.6 151.9 503.9 153.9 507.1 154.2C510.3 154.5 513.6 152.2 516.8 150.2C520.0 148.2 523.2 144.6 526.4 142.2C529.6 139.8 532.9 137.0 536.1 135.7C539.3 134.4 542.0 134.5 545.8 134.4C549.5 134.3 555.1 135.0 558.6 134.9C562.1 134.8 564.0 135.3 566.7 134.1C569.4 132.9 572.2 130.2 574.8 127.7C577.3 125.2 580.8 120.3 582.0 118.8" stroke="#f01818" stroke-width="2.0" fill="none" stroke-linejoin="round" stroke-linecap="round"/>
<path d="M355.8 167.9C356.7 168.7 358.8 171.7 361.4 172.8C363.9 173.9 366.8 174.3 371.1 174.4C375.4 174.5 381.8 174.2 387.2 173.6C392.6 173.0 397.9 172.4 403.3 171.1C408.7 169.8 414.0 167.6 419.4 165.5C424.8 163.4 431.2 160.6 435.5 158.3C439.8 156.0 442.5 154.2 445.2 151.8C447.9 149.4 449.5 146.8 451.6 143.8C453.8 140.9 456.0 137.5 458.1 134.1C460.2 130.7 462.6 126.2 464.5 123.6C466.4 121.0 467.8 119.7 469.4 118.5C471.0 117.3 472.7 116.5 474.1 116.5C475.6 116.5 476.1 116.3 478.1 118.3C480.1 120.2 483.5 125.0 486.2 128.2C488.9 131.4 491.0 134.6 494.2 137.3C497.4 140.0 502.0 143.8 505.5 144.6C509.0 145.4 511.7 144.2 515.2 142.2C518.7 140.2 522.9 135.7 526.4 132.5C529.9 129.3 532.6 125.2 536.1 122.8C539.6 120.4 543.6 118.8 547.4 118.0C551.1 117.2 555.1 118.5 558.6 117.7C562.1 116.9 565.1 115.6 568.3 113.2C571.5 110.8 575.7 106.5 578.0 103.5C580.3 100.5 581.3 96.8 582.0 95.4" stroke="#22e022" stroke-width="2.0" fill="none" stroke-linejoin="round" stroke-linecap="round"/>
</g>
<g clip-path="url(#clipc)">
<path d="M56.4 347.4C57.5 347.1 59.5 346.6 63.2 345.6C66.9 344.7 73.3 342.8 78.7 341.8C84.1 340.7 89.3 340.1 95.4 339.3C101.5 338.4 109.4 337.7 115.4 336.8C121.4 335.8 127.1 334.5 131.4 333.5C135.7 332.4 138.7 331.4 141.4 330.5C144.1 329.6 145.4 329.1 147.4 328.0C149.4 326.9 151.7 325.7 153.4 324.0C155.1 322.4 156.3 319.7 157.4 318.1C158.5 316.4 159.1 315.4 159.9 314.1C160.7 312.8 161.5 311.9 162.4 310.3C163.3 308.6 164.4 306.1 165.4 304.1C166.4 302.1 167.3 300.2 168.4 298.1C169.5 296.0 170.5 294.2 171.8 291.6C173.2 288.9 175.2 284.8 176.5 282.2C177.9 279.6 178.8 277.9 179.9 276.2C181.1 274.5 182.1 272.8 183.4 271.8C184.7 270.9 186.3 270.6 187.8 270.6C189.3 270.6 190.8 270.9 192.4 271.8C194.0 272.8 195.5 274.2 197.4 276.2C199.3 278.2 201.6 281.5 203.9 283.7C206.2 285.9 208.8 287.9 211.4 289.7C214.0 291.4 216.7 292.8 219.4 294.2C222.1 295.5 224.4 296.8 227.4 297.9C230.4 299.1 234.1 300.1 237.4 300.9C240.7 301.8 244.6 302.6 247.4 303.1C250.2 303.6 252.2 303.9 254.0 304.1C255.8 304.3 257.0 304.6 258.4 304.3C259.8 304.0 261.1 303.2 262.4 302.1C263.7 301.0 264.9 299.3 266.1 297.6C267.3 296.0 268.3 294.1 269.4 292.2C270.5 290.2 271.9 288.1 272.9 286.2C273.9 284.3 274.8 283.0 275.5 280.7C276.3 278.4 276.8 276.1 277.4 272.2C278.0 268.3 278.5 262.3 279.0 257.3C279.5 252.3 279.9 246.6 280.2 242.4C280.5 238.1 280.8 228.6 281.0 231.9C281.2 235.2 281.6 252.2 281.6 262.3C281.6 272.3 281.6 285.1 281.2 292.2C280.8 299.2 281.0 302.2 279.4 304.6C277.8 307.0 275.1 306.0 271.4 306.4C267.7 306.8 261.9 306.7 257.2 307.1C252.5 307.5 247.7 308.1 243.4 308.6C239.1 309.1 236.5 309.6 231.2 310.3C225.9 310.9 218.0 311.8 211.4 312.6C204.8 313.4 196.6 314.2 191.4 315.1C186.2 315.9 182.9 316.6 180.4 317.6C177.9 318.6 177.8 319.3 176.4 321.0C175.0 322.8 173.7 325.0 171.9 328.0C170.2 331.0 167.7 335.2 165.9 339.0C164.1 342.8 162.5 347.4 160.9 350.9C159.3 354.5 157.8 357.6 156.4 360.4C155.0 363.1 153.7 365.5 152.4 367.4C151.1 369.2 149.9 370.6 148.4 371.6C146.9 372.7 145.1 373.3 143.4 373.6C141.7 374.0 141.2 374.3 138.4 373.6C135.6 373.0 130.9 371.4 126.4 369.8C121.9 368.3 116.4 366.4 111.4 364.4C106.4 362.4 101.4 359.7 96.4 357.9C91.4 356.1 86.2 354.8 81.4 353.4C76.6 352.1 71.6 350.7 67.4 349.7C63.2 348.7 58.2 347.8 56.4 347.4" stroke="#050505" stroke-width="2.0" fill="none" stroke-linejoin="round" stroke-linecap="round"/>
<path d="M56.4 354.4C57.6 354.0 60.9 352.7 63.4 351.9C65.9 351.1 67.5 350.6 71.5 349.6C75.5 348.7 80.9 347.4 87.6 346.2C94.3 345.0 104.5 343.8 111.8 342.5C119.1 341.1 125.8 339.6 131.4 338.0C137.0 336.3 142.3 334.3 145.6 332.5C148.9 330.7 149.8 328.7 151.4 327.0C153.0 325.4 153.9 324.4 154.9 322.5C155.9 320.7 156.6 318.1 157.4 316.1C158.2 314.0 158.8 312.3 159.6 310.3C160.4 308.3 161.4 306.1 162.4 304.1C163.4 302.1 164.3 300.2 165.4 298.1C166.5 296.0 167.6 294.2 169.0 291.6C170.4 288.9 172.1 285.2 173.7 282.2C175.3 279.2 176.8 276.1 178.4 273.7C180.0 271.4 181.8 269.4 183.4 268.3C185.0 267.1 186.3 266.9 187.8 266.9C189.3 266.8 190.8 267.1 192.4 268.1C194.0 269.0 195.5 270.7 197.4 272.7C199.3 274.8 201.6 277.9 203.9 280.2C206.2 282.5 208.8 284.9 211.4 286.7C214.0 288.5 216.7 289.8 219.4 291.2C222.1 292.5 224.4 293.8 227.4 294.9C230.4 296.1 234.1 297.2 237.4 298.1C240.7 299.1 244.3 300.0 247.4 300.7C250.5 301.4 253.8 302.2 255.8 302.4C257.8 302.7 258.4 302.5 259.4 302.3C260.4 302.1 260.8 301.9 261.8 301.0C262.8 300.2 264.2 298.4 265.4 297.1C266.6 295.9 267.7 294.8 268.7 293.4C269.7 291.9 270.7 289.8 271.4 288.2C272.1 286.6 272.3 286.2 272.9 283.9C273.5 281.6 274.2 278.7 274.9 274.2C275.7 269.8 276.7 262.6 277.4 257.3C278.2 252.0 278.8 246.7 279.4 242.4C280.0 238.0 280.5 228.1 280.9 231.4C281.3 234.7 281.5 252.2 281.6 262.3C281.7 272.4 282.0 285.5 281.4 292.2C280.8 298.8 279.9 300.4 277.9 302.1C275.9 303.9 272.0 302.5 269.4 302.6C266.9 302.7 265.2 302.2 262.6 302.9C260.0 303.6 257.1 305.8 254.0 306.8C250.8 307.8 247.5 308.1 243.7 308.7C239.9 309.3 238.3 309.6 231.2 310.6C224.2 311.6 208.9 313.7 201.4 314.6C193.9 315.5 190.1 315.5 186.4 316.1C182.7 316.6 181.6 316.9 179.4 317.9C177.2 318.9 175.1 320.3 173.4 322.0C171.7 323.7 171.1 325.2 169.4 328.0C167.7 330.8 165.3 335.0 163.4 339.0C161.5 343.0 159.4 348.1 157.7 351.9C156.0 355.7 154.8 358.7 153.4 361.9C152.0 365.0 150.9 368.3 149.4 370.8C147.9 373.4 146.1 375.6 144.4 377.1C142.7 378.7 141.0 379.5 139.4 380.1C137.8 380.7 136.6 380.6 135.0 380.5C133.4 380.4 131.4 379.9 130.0 379.5C128.6 379.1 128.7 378.9 126.4 378.1C124.1 377.3 120.2 376.2 116.4 374.8C112.6 373.4 108.5 371.9 103.7 369.8C98.9 367.8 93.0 364.5 87.6 362.5C82.2 360.4 76.6 358.9 71.5 357.7C66.4 356.5 59.4 355.7 57.0 355.3" stroke="#0808e8" stroke-width="2.0" fill="none" stroke-linejoin="round" stroke-linecap="round"/>
<path d="M56.5 336.8C59.1 335.9 64.1 333.2 72.1 331.5C80.1 329.8 93.6 328.3 104.3 326.7C115.0 325.1 127.9 323.3 136.5 321.9C145.1 320.5 151.7 319.3 155.9 318.5C160.2 317.7 158.3 317.9 162.0 317.0C165.7 316.1 170.0 313.8 178.1 313.0C186.2 312.2 199.6 312.2 210.3 312.2C221.0 312.2 231.8 312.8 242.5 313.0C253.2 313.2 268.3 313.1 274.8 313.2C281.3 313.3 280.8 313.2 281.5 313.5C282.2 313.8 282.8 314.6 279.0 315.0C275.2 315.4 267.4 315.5 258.6 316.0C249.8 316.5 236.8 317.4 226.0 318.2C215.2 318.9 202.0 319.9 194.0 320.5C186.0 321.1 182.8 320.7 178.1 321.5C173.3 322.3 169.8 323.5 165.5 325.1C161.2 326.7 156.3 329.8 152.6 331.0C148.8 332.2 148.4 332.1 143.0 332.4C137.6 332.7 129.1 332.8 120.0 333.0C110.9 333.2 96.5 333.1 88.2 333.5C79.9 333.9 75.3 334.9 70.0 335.5C64.7 336.1 58.8 336.8 56.5 337.0" stroke="#f2ee10" stroke-width="2.0" fill="none" stroke-linejoin="round" stroke-linecap="round"/>
<path d="M56.5 344.4C59.1 343.4 64.0 340.9 72.0 338.5C80.0 336.1 93.5 332.5 104.3 330.0C115.0 327.5 127.1 325.4 136.5 323.5C145.9 321.6 152.4 320.3 160.7 318.7C169.0 317.1 175.2 315.0 186.2 313.8C197.1 312.6 213.0 311.9 226.4 311.4C239.8 310.9 258.1 311.3 266.7 310.6C275.3 309.9 275.7 309.0 278.0 307.4C280.3 305.8 279.8 303.1 280.4 301.0C281.0 298.9 281.2 294.2 281.4 294.9C281.6 295.6 282.1 302.6 281.5 305.0C280.9 307.4 279.7 307.3 278.0 309.0C276.3 310.7 274.7 313.9 271.5 315.4C268.3 316.9 268.8 317.3 258.6 317.9C248.4 318.5 224.1 318.7 210.3 319.0C196.5 319.3 182.9 319.5 176.0 319.8C169.1 320.1 174.0 319.6 168.8 321.0C163.6 322.4 152.7 326.0 144.6 328.3C136.5 330.6 129.8 332.5 120.4 334.8C111.0 337.1 98.9 340.4 88.2 342.0C77.5 343.6 61.8 344.0 56.5 344.4" stroke="#f01818" stroke-width="2.0" fill="none" stroke-linejoin="round" stroke-linecap="round"/>
<path d="M56.5 342.5C59.1 341.5 64.1 338.5 72.1 336.4C80.1 334.3 93.6 331.9 104.3 330.0C115.0 328.1 128.1 326.7 136.5 325.1C144.9 323.5 150.2 322.0 155.0 320.5C159.8 319.0 161.2 317.5 165.0 316.0C168.8 314.5 173.2 312.6 178.1 311.4C183.0 310.2 186.1 309.0 194.2 308.7C202.2 308.4 215.7 309.5 226.4 309.8C237.1 310.1 251.1 310.7 258.6 310.6C266.1 310.5 268.5 310.3 271.5 309.0C274.5 307.7 275.0 305.8 276.4 302.6C277.8 299.4 278.9 292.8 279.6 289.7C280.4 286.6 280.6 283.0 280.9 283.9C281.2 284.8 281.7 292.4 281.2 295.0C280.7 297.6 279.1 297.0 278.0 299.3C276.9 301.6 276.9 306.6 274.8 309.0C272.7 311.4 270.5 312.6 265.1 313.8C259.7 315.0 251.6 315.5 242.5 316.2C233.4 316.9 221.0 317.3 210.3 317.9C199.6 318.4 185.5 318.9 178.1 319.5C170.7 320.1 168.9 320.6 166.0 321.5C163.1 322.4 164.3 323.4 160.7 325.1C157.1 326.8 151.3 329.4 144.6 331.5C137.9 333.6 129.8 336.2 120.4 338.0C111.0 339.8 98.9 341.2 88.2 342.0C77.5 342.8 61.8 342.7 56.5 342.8" stroke="#22e022" stroke-width="2.0" fill="none" stroke-linejoin="round" stroke-linecap="round"/>
</g>
<g clip-path="url(#clipd)">
<path d="M356.0 405.4C363.3 405.4 387.6 405.4 400.0 405.4C412.3 405.4 423.3 405.4 429.9 405.3C436.6 405.3 437.1 405.2 439.9 405.1C442.8 405.0 444.8 404.8 446.9 404.5C449.1 404.2 451.1 403.8 452.9 403.2C454.8 402.6 456.3 401.8 458.0 401.0C459.7 400.2 461.3 399.4 462.9 398.2C464.5 397.0 466.3 395.9 467.7 394.0C469.1 392.2 470.4 389.5 471.6 387.0C472.8 384.5 473.8 381.8 474.9 379.0C476.0 376.3 476.7 373.5 478.0 370.7C479.3 367.8 481.2 362.8 482.8 361.8C484.4 360.7 485.8 361.5 487.7 364.3C489.6 367.1 491.7 374.1 494.1 378.6C496.5 383.2 499.5 388.4 502.2 391.5C504.9 394.6 507.2 396.4 510.2 397.2C513.1 398.1 516.6 398.1 519.9 396.7C523.1 395.4 526.3 391.2 529.5 389.1C532.8 387.1 536.2 385.3 539.1 384.3C542.1 383.4 544.0 382.8 547.2 383.2C550.4 383.6 554.4 385.5 558.4 386.7C562.4 388.0 567.4 389.9 571.3 390.7C575.2 391.5 580.1 391.4 581.8 391.5" stroke="#050505" stroke-width="2.0" fill="none" stroke-linejoin="round" stroke-linecap="round"/>
<path d="M356.0 405.3C363.3 405.3 390.6 405.3 400.0 405.3C409.3 405.3 408.3 405.3 412.0 405.2C415.6 405.1 418.8 404.9 421.9 404.6C425.1 404.3 428.1 403.8 430.6 403.2C433.1 402.6 434.8 401.9 436.9 401.0C439.1 400.1 441.2 399.4 443.5 398.0C445.9 396.6 448.2 394.7 450.9 392.8C453.6 390.9 456.2 389.4 459.6 386.7C463.1 384.1 468.3 380.8 471.6 377.1C474.9 373.3 477.6 368.8 479.6 364.3C481.6 359.7 482.4 354.6 483.8 349.8C485.1 345.0 486.4 339.3 487.7 335.3C489.0 331.4 490.3 327.5 491.5 326.1C492.7 324.8 493.7 325.5 494.8 327.4C495.9 329.4 496.7 332.3 498.2 337.9C499.7 343.5 502.0 353.9 503.8 361.0C505.5 368.0 507.0 375.3 508.6 380.3C510.2 385.4 511.5 388.8 513.4 391.5C515.2 394.3 517.2 396.2 519.9 396.7C522.6 397.3 526.3 396.2 529.5 394.8C532.8 393.4 535.7 390.2 539.1 388.3C542.6 386.5 546.7 384.1 550.4 383.8C554.2 383.6 558.2 385.7 561.7 386.7C565.2 387.8 568.0 389.4 571.3 390.2C574.7 391.0 580.1 391.3 581.8 391.5" stroke="#0808e8" stroke-width="2.0" fill="none" stroke-linejoin="round" stroke-linecap="round"/>
<path d="M356.0 399.3C358.5 399.2 363.2 398.8 371.1 398.5C379.0 398.2 393.4 397.9 403.3 397.7C413.2 397.5 422.6 398.0 430.7 397.3C438.8 396.6 445.4 394.6 451.6 393.6C457.8 392.6 463.9 391.7 467.8 391.2C471.7 390.7 472.5 391.1 475.0 390.4C477.5 389.7 479.7 388.0 482.9 387.0C486.1 386.0 490.7 384.5 494.2 384.6C497.7 384.7 500.7 386.7 503.9 387.8C507.1 388.9 509.8 390.3 513.5 391.0C517.2 391.7 521.6 391.9 526.4 391.8C531.2 391.7 537.1 390.5 542.5 390.2C547.9 389.9 553.2 390.1 558.6 390.2C564.0 390.3 570.9 390.7 574.8 391.0C578.7 391.3 580.8 391.7 582.0 391.8" stroke="#f2ee10" stroke-width="2.0" fill="none" stroke-linejoin="round" stroke-linecap="round"/>
<path d="M356.0 402.0C356.3 401.8 355.5 401.1 358.0 400.9C360.5 400.7 363.6 401.0 371.1 400.9C378.7 400.8 393.9 400.7 403.3 400.4C412.7 400.1 420.8 399.9 427.5 399.3C434.2 398.7 438.2 397.6 443.6 396.8C449.0 396.0 453.9 395.0 459.7 394.4C465.4 393.8 472.4 393.6 478.1 393.4C483.9 393.2 488.8 393.0 494.2 393.4C499.6 393.8 504.9 395.3 510.3 395.8C515.7 396.3 521.0 396.2 526.4 396.3C531.8 396.4 537.1 396.6 542.5 396.6C547.9 396.6 552.0 396.5 558.6 396.3C565.2 396.1 578.1 395.5 582.0 395.4" stroke="#f01818" stroke-width="2.0" fill="none" stroke-linejoin="round" stroke-linecap="round"/>
<path d="M356.0 400.5C356.3 400.3 355.5 399.6 358.0 399.3C360.5 399.1 363.6 399.1 371.1 399.0C378.7 398.9 393.6 398.7 403.3 398.5C413.0 398.3 422.4 398.5 429.1 397.7C435.8 396.9 438.5 395.0 443.6 393.6C448.7 392.2 455.0 390.7 459.7 389.6C464.4 388.5 467.8 387.7 471.7 387.0C475.6 386.3 479.4 386.1 482.9 385.4C486.4 384.6 489.9 382.8 492.6 382.5C495.3 382.2 496.6 382.7 499.0 383.8C501.4 384.9 504.4 388.1 507.1 389.4C509.8 390.7 512.0 391.2 515.2 391.8C518.4 392.4 522.9 392.9 526.4 393.1C529.9 393.3 532.1 393.3 536.1 393.1C540.1 392.9 545.5 392.0 550.6 391.8C555.7 391.6 561.5 391.8 566.7 391.8C571.9 391.8 579.5 391.8 582.0 391.8" stroke="#22e022" stroke-width="2.0" fill="none" stroke-linejoin="round" stroke-linecap="round"/>
</g>
<g clip-path="url(#clipe)">
<path d="M56.3 572.5C57.4 572.2 59.4 571.7 63.1 570.7C66.8 569.8 73.2 567.9 78.6 566.8C84.0 565.7 89.2 565.1 95.3 564.3C101.4 563.5 109.3 562.8 115.3 561.8C121.3 560.9 127.0 559.6 131.3 558.5C135.6 557.5 138.6 556.4 141.3 555.5C144.0 554.6 145.3 554.1 147.3 553.0C149.3 552.0 151.6 550.7 153.3 549.0C155.0 547.4 156.2 544.7 157.3 543.1C158.4 541.4 159.0 540.4 159.8 539.1C160.6 537.8 161.4 536.9 162.3 535.3C163.2 533.6 164.3 531.1 165.3 529.1C166.3 527.0 167.2 525.2 168.3 523.1C169.4 521.0 170.4 519.2 171.7 516.5C173.1 513.8 175.1 509.7 176.4 507.1C177.8 504.6 178.7 502.9 179.8 501.1C181.0 499.4 182.0 497.7 183.3 496.7C184.6 495.8 186.2 495.5 187.7 495.5C189.2 495.5 190.7 495.8 192.3 496.7C193.9 497.7 195.4 499.1 197.3 501.1C199.2 503.1 201.5 506.4 203.8 508.6C206.1 510.9 208.7 512.9 211.3 514.6C213.9 516.3 216.6 517.7 219.3 519.1C222.0 520.5 224.3 521.8 227.3 522.9C230.3 524.0 234.0 525.0 237.3 525.9C240.6 526.7 244.5 527.5 247.3 528.1C250.1 528.6 252.1 528.9 253.9 529.1C255.7 529.3 256.9 529.6 258.3 529.3C259.7 528.9 261.0 528.2 262.3 527.1C263.6 526.0 264.8 524.3 266.0 522.6C267.2 520.9 268.2 519.0 269.3 517.1C270.4 515.2 271.8 513.0 272.8 511.1C273.8 509.2 274.7 507.9 275.4 505.6C276.2 503.3 276.7 501.0 277.3 497.1C277.9 493.2 278.4 487.1 278.9 482.2C279.4 477.2 279.8 471.4 280.1 467.2C280.4 462.9 280.7 453.4 280.9 456.7C281.1 460.0 281.5 477.1 281.5 487.1C281.5 497.2 281.5 510.0 281.1 517.1C280.7 524.2 280.9 527.2 279.3 529.6C277.7 532.0 275.0 531.0 271.3 531.4C267.6 531.8 261.8 531.7 257.1 532.1C252.4 532.4 247.6 533.0 243.3 533.6C239.0 534.1 236.4 534.6 231.1 535.3C225.8 535.9 217.9 536.8 211.3 537.6C204.7 538.4 196.5 539.2 191.3 540.1C186.1 540.9 182.8 541.6 180.3 542.6C177.8 543.6 177.7 544.3 176.3 546.0C174.9 547.8 173.6 550.0 171.8 553.0C170.1 556.0 167.6 560.2 165.8 564.0C164.0 567.8 162.4 572.4 160.8 576.0C159.2 579.6 157.7 582.7 156.3 585.5C154.9 588.2 153.6 590.6 152.3 592.5C151.0 594.3 149.8 595.7 148.3 596.8C146.8 597.8 145.0 598.4 143.3 598.8C141.6 599.1 141.1 599.4 138.3 598.8C135.5 598.1 130.8 596.5 126.3 595.0C121.8 593.4 116.3 591.5 111.3 589.5C106.3 587.5 101.3 584.8 96.3 583.0C91.3 581.2 86.1 579.9 81.3 578.5C76.5 577.1 71.5 575.8 67.3 574.8C63.1 573.8 58.1 572.9 56.3 572.5" stroke="#050505" stroke-width="2.0" fill="none" stroke-linejoin="round" stroke-linecap="round"/>
<path d="M56.3 579.5C57.5 579.1 60.8 577.8 63.3 577.0C65.8 576.2 67.4 575.6 71.4 574.7C75.4 573.7 80.8 572.5 87.5 571.3C94.2 570.1 104.4 568.9 111.7 567.5C119.0 566.1 125.7 564.7 131.3 563.0C136.9 561.4 142.2 559.4 145.5 557.5C148.8 555.7 149.8 553.7 151.3 552.0C152.9 550.4 153.8 549.4 154.8 547.5C155.8 545.7 156.5 543.1 157.3 541.1C158.1 539.0 158.7 537.3 159.5 535.3C160.3 533.3 161.3 531.1 162.3 529.1C163.3 527.0 164.2 525.2 165.3 523.1C166.4 521.0 167.5 519.2 168.9 516.5C170.3 513.8 172.0 510.1 173.6 507.1C175.2 504.1 176.7 501.0 178.3 498.6C179.9 496.3 181.7 494.3 183.3 493.1C184.9 492.0 186.2 491.8 187.7 491.7C189.2 491.7 190.7 492.0 192.3 492.9C193.9 493.9 195.4 495.6 197.3 497.6C199.2 499.7 201.5 502.8 203.8 505.1C206.1 507.4 208.7 509.8 211.3 511.6C213.9 513.4 216.6 514.7 219.3 516.1C222.0 517.5 224.3 518.7 227.3 519.9C230.3 521.1 234.0 522.1 237.3 523.1C240.6 524.1 244.2 525.0 247.3 525.7C250.4 526.4 253.7 527.1 255.7 527.4C257.7 527.6 258.3 527.5 259.3 527.3C260.3 527.0 260.7 526.8 261.7 526.0C262.7 525.1 264.1 523.4 265.3 522.1C266.5 520.8 267.6 519.8 268.6 518.3C269.6 516.8 270.6 514.7 271.3 513.1C272.0 511.5 272.2 511.1 272.8 508.8C273.4 506.5 274.1 503.6 274.8 499.1C275.6 494.7 276.6 487.5 277.3 482.2C278.1 476.8 278.7 471.5 279.3 467.2C279.9 462.9 280.4 452.9 280.8 456.2C281.2 459.5 281.4 477.0 281.5 487.1C281.6 497.3 281.9 510.4 281.3 517.1C280.7 523.8 279.8 525.3 277.8 527.1C275.8 528.8 271.9 527.4 269.3 527.6C266.8 527.7 265.1 527.2 262.5 527.9C259.9 528.6 257.0 530.8 253.9 531.8C250.7 532.7 247.4 533.0 243.6 533.7C239.8 534.3 238.2 534.6 231.1 535.6C224.1 536.5 208.8 538.6 201.3 539.6C193.8 540.5 190.0 540.5 186.3 541.1C182.6 541.6 181.5 541.9 179.3 542.9C177.1 543.9 175.0 545.3 173.3 547.0C171.6 548.7 171.0 550.2 169.3 553.0C167.6 555.9 165.2 560.0 163.3 564.0C161.4 568.0 159.3 573.2 157.6 577.0C155.9 580.8 154.7 583.8 153.3 587.0C151.9 590.1 150.8 593.4 149.3 596.0C147.8 598.5 146.0 600.7 144.3 602.2C142.6 603.8 140.9 604.7 139.3 605.2C137.7 605.8 136.5 605.7 134.9 605.6C133.3 605.5 131.3 605.0 129.9 604.6C128.5 604.2 128.6 604.0 126.3 603.2C124.0 602.5 120.1 601.3 116.3 600.0C112.5 598.6 108.4 597.0 103.6 595.0C98.8 592.9 92.9 589.6 87.5 587.6C82.1 585.5 76.5 584.0 71.4 582.8C66.3 581.6 59.3 580.8 56.9 580.4" stroke="#0808e8" stroke-width="2.0" fill="none" stroke-linejoin="round" stroke-linecap="round"/>
<path d="M56.5 563.8C57.8 562.6 60.0 558.6 64.0 556.5C68.0 554.4 73.5 552.4 80.2 550.9C86.9 549.4 94.9 548.3 104.3 547.2C113.7 546.1 127.1 545.4 136.5 544.5C145.9 543.6 154.1 542.6 160.7 542.0C167.3 541.4 170.4 541.1 176.0 540.8C181.6 540.5 185.8 540.5 194.2 540.0C202.6 539.5 215.7 538.5 226.4 538.0C237.1 537.5 250.5 537.2 258.6 536.7C266.7 536.2 271.6 537.5 274.8 535.1C278.0 532.7 277.1 527.0 278.0 522.2C278.9 517.4 279.9 512.3 280.4 506.1C280.9 499.9 280.9 491.0 281.0 485.0C281.1 479.0 281.1 467.5 281.2 470.0C281.3 472.5 281.5 490.8 281.5 500.0C281.5 509.2 281.6 519.0 281.0 525.0C280.4 531.0 279.6 533.7 278.0 535.9C276.4 538.1 274.7 537.4 271.5 538.3C268.3 539.2 266.1 540.4 258.6 541.5C251.1 542.6 237.1 544.1 226.4 544.8C215.7 545.5 202.6 545.1 194.2 545.6C185.8 546.1 181.6 547.1 176.0 547.7C170.4 548.3 167.3 548.8 160.7 549.3C154.1 549.8 145.9 550.1 136.5 550.9C127.1 551.7 115.0 552.8 104.3 554.1C93.6 555.5 80.1 557.4 72.1 559.0C64.1 560.6 59.1 563.0 56.5 563.8" stroke="#f01818" stroke-width="2.0" fill="none" stroke-linejoin="round" stroke-linecap="round"/>
<path d="M56.5 566.2C57.8 565.1 60.0 561.9 64.0 559.8C68.0 557.6 73.5 555.3 80.2 553.3C86.9 551.3 94.9 549.2 104.3 547.7C113.7 546.2 127.1 545.6 136.5 544.5C145.9 543.4 154.1 542.2 160.7 541.2C167.3 540.2 170.4 539.4 176.0 538.8C181.6 538.2 185.8 538.0 194.2 537.5C202.6 537.0 215.7 536.4 226.4 535.9C237.1 535.4 251.3 534.7 258.6 534.3C265.9 533.9 267.5 534.5 270.0 533.5C272.5 532.5 272.7 531.1 273.5 528.0C274.3 524.9 274.2 520.4 274.9 514.9C275.6 509.4 277.1 503.2 277.9 494.9C278.7 486.6 279.5 471.3 279.9 465.0C280.3 458.7 280.3 454.5 280.4 457.0C280.5 459.5 280.7 470.3 280.5 480.0C280.3 489.7 279.9 506.6 279.0 515.0C278.1 523.4 276.6 526.4 274.8 530.3C273.0 534.2 271.5 536.1 268.3 538.3C265.1 540.4 262.4 541.9 255.4 543.2C248.4 544.5 236.6 545.3 226.4 546.0C216.2 546.7 202.6 546.4 194.2 547.2C185.8 548.0 181.6 550.0 176.0 550.9C170.4 551.8 167.3 551.8 160.7 552.5C154.1 553.2 145.9 554.2 136.5 555.0C127.1 555.8 113.7 556.5 104.3 557.4C94.9 558.3 86.9 559.2 80.2 560.6C73.5 562.0 68.0 564.6 64.0 565.5C60.0 566.4 57.8 566.1 56.5 566.2" stroke="#22e022" stroke-width="2.0" fill="none" stroke-linejoin="round" stroke-linecap="round"/>
<path d="M56.0 574.3C57.3 572.9 60.0 569.2 64.0 566.2C68.0 563.2 73.5 559.5 80.2 556.5C86.9 553.5 96.2 550.5 104.3 548.5C112.3 546.5 120.5 545.7 128.5 544.5C136.6 543.3 145.7 542.0 152.6 541.2C159.5 540.4 164.4 540.2 170.0 539.5C175.6 538.8 179.5 537.7 186.2 536.7C192.9 535.8 203.6 534.2 210.3 533.8C217.0 533.4 221.0 533.8 226.4 534.3C231.8 534.8 235.8 536.2 242.5 536.7C249.2 537.2 261.9 538.1 266.7 537.5C271.4 536.9 269.9 535.1 271.0 533.0C272.1 530.9 272.2 529.6 273.0 524.9C273.8 520.2 275.0 513.2 275.9 504.9C276.8 496.6 277.8 482.5 278.4 475.0C279.0 467.5 279.2 459.2 279.3 460.0C279.4 460.8 279.5 472.5 279.0 480.0C278.5 487.5 277.2 498.0 276.5 505.0C275.8 512.0 275.6 516.9 274.8 522.2C274.0 527.5 274.2 533.2 271.5 536.7C268.8 540.2 264.8 541.6 258.6 543.2C252.4 544.8 243.9 545.5 234.5 546.4C225.1 547.3 211.7 548.0 202.3 548.8C192.9 549.6 185.0 550.5 178.1 551.2C171.2 551.9 167.6 552.4 160.7 553.0C153.8 553.6 145.9 554.0 136.5 555.0C127.1 556.0 115.0 557.5 104.3 559.0C93.6 560.5 80.1 561.2 72.1 563.8C64.0 566.3 58.7 572.5 56.0 574.3" stroke="#f2ee10" stroke-width="2.0" fill="none" stroke-linejoin="round" stroke-linecap="round"/>
</g>
<g clip-path="url(#clipf)">
<path d="M356.0 630.2C363.3 630.2 387.6 630.2 400.0 630.2C412.3 630.2 423.3 630.2 429.9 630.1C436.6 630.1 437.1 630.0 439.9 629.9C442.8 629.8 444.8 629.6 446.9 629.3C449.1 629.0 451.1 628.6 452.9 628.0C454.8 627.4 456.3 626.6 458.0 625.8C459.7 625.0 461.3 624.2 462.9 623.0C464.5 621.8 466.3 620.7 467.7 618.8C469.1 617.0 470.4 614.3 471.6 611.8C472.8 609.3 473.8 606.6 474.9 603.8C476.0 601.1 476.7 598.3 478.0 595.5C479.3 592.6 481.2 587.6 482.8 586.6C484.4 585.5 485.8 586.3 487.7 589.1C489.6 591.9 491.7 598.9 494.1 603.4C496.5 608.0 499.5 613.2 502.2 616.3C504.9 619.4 507.2 621.2 510.2 622.0C513.1 622.9 516.6 622.9 519.9 621.5C523.1 620.2 526.3 616.0 529.5 613.9C532.8 611.9 536.2 610.1 539.1 609.1C542.1 608.2 544.0 607.6 547.2 608.0C550.4 608.4 554.4 610.3 558.4 611.5C562.4 612.8 567.4 614.7 571.3 615.5C575.2 616.3 580.1 616.2 581.8 616.3" stroke="#050505" stroke-width="2.0" fill="none" stroke-linejoin="round" stroke-linecap="round"/>
<path d="M356.0 630.1C363.3 630.1 390.6 630.1 400.0 630.1C409.3 630.1 408.3 630.1 412.0 630.0C415.6 629.9 418.8 629.7 421.9 629.4C425.1 629.1 428.1 628.6 430.6 628.0C433.1 627.4 434.8 626.7 436.9 625.8C439.1 624.9 441.2 624.2 443.5 622.8C445.9 621.4 448.2 619.5 450.9 617.6C453.6 615.7 456.2 614.2 459.6 611.5C463.1 608.9 468.3 605.6 471.6 601.9C474.9 598.1 477.6 593.6 479.6 589.1C481.6 584.5 482.4 579.4 483.8 574.6C485.1 569.8 486.4 564.1 487.7 560.1C489.0 556.2 490.3 552.3 491.5 550.9C492.7 549.6 493.7 550.3 494.8 552.2C495.9 554.2 496.7 557.1 498.2 562.7C499.7 568.3 502.0 578.7 503.8 585.8C505.5 592.8 507.0 600.1 508.6 605.1C510.2 610.2 511.5 613.6 513.4 616.3C515.2 619.1 517.2 621.0 519.9 621.5C522.6 622.1 526.3 621.0 529.5 619.6C532.8 618.2 535.7 615.0 539.1 613.1C542.6 611.3 546.7 608.9 550.4 608.6C554.2 608.4 558.2 610.5 561.7 611.5C565.2 612.6 568.0 614.2 571.3 615.0C574.7 615.8 580.1 616.1 581.8 616.3" stroke="#0808e8" stroke-width="2.0" fill="none" stroke-linejoin="round" stroke-linecap="round"/>
<path d="M355.9 525.7C356.2 526.3 356.6 526.9 357.7 529.3C358.8 531.7 359.6 537.0 362.2 540.0C364.8 543.0 368.2 545.4 373.0 547.2C377.8 549.0 384.9 549.9 390.9 550.8C396.9 551.6 402.9 551.9 408.9 552.3C414.9 552.7 422.4 553.1 426.9 553.0C431.4 552.9 433.1 553.0 435.8 551.7C438.5 550.4 440.6 549.1 443.0 545.4C445.4 541.7 447.8 535.9 450.2 529.3C452.6 522.7 455.4 512.8 457.4 505.9C459.4 499.0 460.7 491.8 462.3 488.0C463.9 484.2 465.6 483.2 467.0 482.9C468.4 482.6 469.4 483.0 471.0 486.2C472.6 489.4 474.6 496.0 476.4 502.3C478.2 508.6 479.7 517.3 481.8 523.9C483.9 530.5 486.2 538.0 488.9 541.9C491.6 545.8 494.9 546.3 497.9 547.2C500.9 548.1 503.3 547.8 506.9 547.2C510.5 546.6 515.0 545.7 519.5 543.6C524.0 541.5 529.1 537.8 533.9 534.7C538.7 531.6 543.7 527.0 548.2 524.8C552.7 522.5 556.6 522.7 560.8 521.2C565.0 519.7 569.9 518.0 573.4 515.8C576.9 513.5 580.6 509.0 582.0 507.7" stroke="#f2ee10" stroke-width="2.0" fill="none" stroke-linejoin="round" stroke-linecap="round"/>
<path d="M355.9 581.4C356.3 582.6 357.0 586.2 358.6 588.6C360.2 591.0 361.9 593.9 365.8 595.7C369.7 597.5 376.3 599.0 382.0 599.3C387.7 599.6 394.5 598.7 399.9 597.5C405.3 596.3 410.4 593.9 414.3 592.1C418.2 590.3 420.3 588.3 423.3 586.8C426.3 585.3 429.2 584.7 432.2 583.2C435.2 581.7 438.5 581.1 441.2 577.8C443.9 574.5 446.0 568.8 448.4 563.4C450.8 558.0 453.3 551.0 455.6 545.4C457.9 539.8 460.0 533.9 462.3 530.0C464.6 526.1 467.1 523.0 469.2 522.1C471.2 521.2 472.5 522.1 474.6 524.8C476.7 527.5 479.1 533.7 481.8 538.3C484.5 542.9 487.7 548.6 490.7 552.6C493.7 556.6 497.0 560.5 499.7 562.5C502.4 564.5 503.6 564.4 506.9 564.3C510.2 564.1 515.0 563.5 519.5 561.6C524.0 559.7 529.1 556.5 533.9 552.6C538.7 548.7 543.7 542.2 548.2 538.3C552.7 534.4 556.6 532.6 560.8 529.3C565.0 526.0 569.9 522.2 573.4 518.5C576.9 514.8 580.6 508.8 582.0 506.8" stroke="#22e022" stroke-width="2.0" fill="none" stroke-linejoin="round" stroke-linecap="round"/>
<path d="M355.9 584.1C356.3 586.3 357.0 594.1 358.6 597.5C360.2 600.9 361.9 603.1 365.8 604.7C369.7 606.4 376.3 607.1 382.0 607.4C387.7 607.7 393.9 607.5 399.9 606.5C405.9 605.5 413.4 602.8 417.9 601.1C422.4 599.5 423.3 598.4 426.9 596.6C430.5 594.8 436.1 593.2 439.4 590.4C442.7 587.6 443.9 585.3 446.6 579.6C449.3 573.9 453.0 561.5 455.6 556.2C458.2 550.9 460.0 550.2 462.3 548.0C464.6 545.8 466.9 542.8 469.2 542.7C471.5 542.6 473.7 544.1 476.4 547.2C479.1 550.4 482.4 557.4 485.4 561.6C488.4 565.8 491.0 569.5 494.3 572.4C497.6 575.2 501.5 577.8 505.1 578.7C508.7 579.6 511.1 579.1 515.9 577.8C520.7 576.4 528.5 573.0 533.9 570.6C539.3 568.2 543.4 566.1 548.2 563.4C553.0 560.7 558.1 558.0 562.6 554.4C567.1 550.8 572.0 545.6 575.2 541.9C578.4 538.2 580.9 533.6 582.0 532.0" stroke="#f01818" stroke-width="2.0" fill="none" stroke-linejoin="round" stroke-linecap="round"/>
</g>
<g clip-path="url(#clipg)">
<path d="M56.3 783.3C57.4 783.1 59.4 782.9 63.1 782.6C66.8 782.2 73.2 781.4 78.6 781.0C84.0 780.6 89.2 780.3 95.3 780.0C101.4 779.7 109.3 779.4 115.3 779.0C121.3 778.6 127.0 778.1 131.3 777.7C135.6 777.3 138.6 776.8 141.3 776.5C144.0 776.1 145.3 775.9 147.3 775.5C149.3 775.0 151.6 774.5 153.3 773.9C155.0 773.2 156.2 772.1 157.3 771.5C158.4 770.8 159.0 770.4 159.8 769.9C160.6 769.4 161.4 769.0 162.3 768.4C163.2 767.7 164.3 766.7 165.3 765.9C166.3 765.1 167.2 764.3 168.3 763.5C169.4 762.6 170.4 761.9 171.7 760.8C173.1 759.8 175.1 758.1 176.4 757.1C177.8 756.0 178.7 755.4 179.8 754.7C181.0 754.0 182.0 753.3 183.3 752.9C184.6 752.5 186.2 752.4 187.7 752.4C189.2 752.4 190.7 752.5 192.3 752.9C193.9 753.3 195.4 753.9 197.3 754.7C199.2 755.5 201.5 756.8 203.8 757.7C206.1 758.6 208.7 759.4 211.3 760.1C213.9 760.8 216.6 761.3 219.3 761.9C222.0 762.4 224.3 762.9 227.3 763.4C230.3 763.8 234.0 764.2 237.3 764.6C240.6 764.9 244.5 765.3 247.3 765.5C250.1 765.7 252.1 765.8 253.9 765.9C255.7 766.0 256.9 766.1 258.3 766.0C259.7 765.8 261.0 765.5 262.3 765.1C263.6 764.6 264.8 763.9 266.0 763.3C267.2 762.6 268.2 761.8 269.3 761.1C270.4 760.3 271.8 759.4 272.8 758.7C273.8 757.9 274.7 757.4 275.4 756.5C276.2 755.5 276.7 754.6 277.3 753.1C277.9 751.5 278.4 749.1 278.9 747.1C279.4 745.1 279.9 744.2 280.1 741.1C280.3 737.9 280.1 726.7 280.3 728.0C280.5 729.3 281.4 743.6 281.5 749.1C281.6 754.6 281.5 758.2 281.1 761.1C280.7 763.9 280.9 765.1 279.3 766.1C277.7 767.0 275.0 766.6 271.3 766.8C267.6 767.0 261.8 766.9 257.1 767.1C252.4 767.2 247.6 767.5 243.3 767.7C239.0 767.9 236.4 768.1 231.1 768.4C225.8 768.6 217.9 769.0 211.3 769.3C204.7 769.6 196.5 769.9 191.3 770.3C186.1 770.6 182.8 770.9 180.3 771.3C177.8 771.7 177.7 772.0 176.3 772.7C174.9 773.4 173.6 774.3 171.8 775.5C170.1 776.7 167.6 778.3 165.8 779.9C164.0 781.4 162.4 783.2 160.8 784.7C159.2 786.1 157.7 787.4 156.3 788.5C154.9 789.6 153.6 790.5 152.3 791.3C151.0 792.0 149.8 792.6 148.3 793.0C146.8 793.4 145.0 793.7 143.3 793.8C141.6 793.9 141.1 794.0 138.3 793.8C135.5 793.5 130.8 792.9 126.3 792.3C121.8 791.6 116.3 790.9 111.3 790.1C106.3 789.3 101.3 788.2 96.3 787.5C91.3 786.7 86.1 786.2 81.3 785.7C76.5 785.1 71.5 784.6 67.3 784.2C63.1 783.8 58.1 783.4 56.3 783.3" stroke="#050505" stroke-width="2.0" fill="none" stroke-linejoin="round" stroke-linecap="round"/>
<path d="M56.3 786.1C57.5 785.9 60.8 785.4 63.3 785.1C65.8 784.8 67.4 784.5 71.4 784.1C75.4 783.8 80.8 783.3 87.5 782.8C94.2 782.3 104.4 781.8 111.7 781.3C119.0 780.7 125.7 780.1 131.3 779.5C136.9 778.8 142.2 778.0 145.5 777.3C148.8 776.5 149.8 775.7 151.3 775.1C152.9 774.4 153.8 774.0 154.8 773.3C155.8 772.5 156.5 771.5 157.3 770.7C158.1 769.9 158.7 769.2 159.5 768.4C160.3 767.5 161.3 766.7 162.3 765.9C163.3 765.1 164.2 764.3 165.3 763.5C166.4 762.6 167.5 761.9 168.9 760.8C170.3 759.8 172.0 758.3 173.6 757.1C175.2 755.9 176.7 754.6 178.3 753.7C179.9 752.7 181.7 751.9 183.3 751.5C184.9 751.0 186.2 750.9 187.7 750.9C189.2 750.9 190.7 751.0 192.3 751.4C193.9 751.8 195.4 752.5 197.3 753.3C199.2 754.1 201.5 755.3 203.8 756.3C206.1 757.2 208.7 758.1 211.3 758.9C213.9 759.6 216.6 760.1 219.3 760.7C222.0 761.2 224.3 761.7 227.3 762.2C230.3 762.7 234.0 763.1 237.3 763.5C240.6 763.9 244.2 764.2 247.3 764.5C250.4 764.8 253.7 765.1 255.7 765.2C257.7 765.3 258.3 765.2 259.3 765.1C260.3 765.1 260.7 765.0 261.7 764.6C262.7 764.3 264.1 763.6 265.3 763.1C266.5 762.6 267.6 762.2 268.6 761.6C269.6 761.0 270.6 760.1 271.3 759.5C272.0 758.8 272.2 758.7 272.8 757.8C273.4 756.8 274.1 755.6 274.8 753.9C275.6 752.1 276.6 749.2 277.3 747.1C278.1 744.9 278.7 746.9 279.3 741.1C279.9 735.2 280.6 710.7 281.0 712.0C281.4 713.3 281.4 740.9 281.5 749.1C281.6 757.2 281.9 758.4 281.3 761.1C280.7 763.7 279.8 764.4 277.8 765.1C275.8 765.8 271.9 765.2 269.3 765.3C266.8 765.3 265.1 765.1 262.5 765.4C259.9 765.7 257.0 766.6 253.9 767.0C250.7 767.3 247.4 767.5 243.6 767.7C239.8 768.0 238.2 768.1 231.1 768.5C224.1 768.9 208.8 769.7 201.3 770.1C193.8 770.4 190.0 770.5 186.3 770.7C182.6 770.9 181.5 771.0 179.3 771.4C177.1 771.8 175.0 772.4 173.3 773.1C171.6 773.8 171.0 774.3 169.3 775.5C167.6 776.6 165.2 778.3 163.3 779.9C161.4 781.5 159.3 783.5 157.6 785.1C155.9 786.6 154.7 787.8 153.3 789.1C151.9 790.3 150.8 791.7 149.3 792.7C147.8 793.7 146.0 794.6 144.3 795.2C142.6 795.8 140.9 796.2 139.3 796.4C137.7 796.6 136.5 796.6 134.9 796.6C133.3 796.5 131.3 796.3 129.9 796.1C128.5 796.0 128.6 795.9 126.3 795.6C124.0 795.3 120.1 794.8 116.3 794.3C112.5 793.7 108.4 793.1 103.6 792.3C98.8 791.4 92.9 790.1 87.5 789.3C82.1 788.5 76.5 787.9 71.4 787.4C66.3 786.9 59.3 786.6 56.9 786.4" stroke="#0808e8" stroke-width="2.0" fill="none" stroke-linejoin="round" stroke-linecap="round"/>
<path d="M56.5 795.2C56.8 794.3 56.5 791.4 58.0 790.0C59.5 788.6 61.2 787.9 65.8 787.0C70.3 786.1 77.2 785.6 85.3 784.5C93.4 783.4 104.8 781.9 114.5 780.5C124.2 779.1 137.3 777.4 143.8 776.0C150.3 774.6 150.7 775.0 153.6 772.0C156.5 769.0 158.8 763.7 161.4 758.1C164.0 752.5 166.9 744.0 169.2 738.6C171.5 733.2 173.1 729.0 175.0 726.0C176.9 723.0 178.7 720.5 180.5 720.3C182.3 720.1 184.1 722.6 186.0 725.0C187.9 727.4 189.4 730.7 191.8 734.8C194.2 738.9 197.8 746.4 200.2 749.7C202.6 753.0 203.2 752.9 206.2 754.5C209.2 756.1 214.3 758.1 218.3 759.3C222.3 760.5 225.4 761.0 230.4 761.7C235.4 762.4 243.2 763.2 248.5 763.6C253.8 764.0 258.8 764.4 262.0 764.0C265.2 763.6 266.1 762.8 267.5 761.0C268.9 759.2 269.6 756.5 270.5 753.0C271.4 749.5 272.0 747.2 272.8 740.0C273.6 732.8 274.5 718.3 275.2 710.0C275.9 701.7 276.5 695.0 277.0 690.0C277.5 685.0 277.8 683.3 278.0 680.0C278.2 676.7 278.0 670.0 278.5 670.0C279.0 670.0 280.6 664.7 281.0 680.0C281.4 695.3 282.5 747.9 281.0 761.7C279.5 775.5 275.4 762.3 271.9 762.7C268.4 763.1 263.9 763.5 260.0 764.2C256.1 765.0 253.4 766.3 248.5 767.2C243.6 768.1 237.5 768.9 230.4 769.6C223.3 770.3 212.6 771.1 206.2 771.6C199.8 772.1 195.1 771.9 191.7 772.6C188.3 773.3 188.6 773.2 186.0 776.0C183.4 778.8 179.4 783.9 176.0 789.4C172.6 794.9 168.4 803.0 165.3 808.9C162.2 814.8 159.4 821.4 157.5 824.5C155.6 827.6 154.9 827.4 153.6 827.4C152.3 827.4 151.3 826.9 149.7 824.5C148.1 822.1 145.8 817.0 143.8 812.8C141.9 808.6 140.3 802.7 138.0 799.1C135.7 795.5 134.0 793.1 130.1 791.3C126.2 789.5 122.0 789.4 114.5 788.4C107.0 787.4 93.4 785.3 85.3 785.5C77.2 785.7 70.6 787.8 65.8 789.4C61.0 791.0 58.0 794.2 56.5 795.2" stroke="#f2ee10" stroke-width="2.0" fill="none" stroke-linejoin="round" stroke-linecap="round"/>
<path d="M56.5 780.6C62.9 780.3 82.1 779.4 95.0 778.6C107.9 777.8 125.2 776.5 134.0 775.7C142.8 774.9 144.4 774.8 147.7 773.8C151.0 772.8 151.2 773.0 153.6 769.9C156.0 766.8 159.2 761.2 162.0 754.9C164.8 748.6 167.4 739.0 170.1 732.3C172.8 725.6 175.6 718.7 178.1 714.6C180.6 710.5 183.0 708.2 185.3 707.6C187.6 707.0 189.8 709.1 192.0 711.0C194.2 712.9 195.0 714.9 198.2 718.7C201.4 722.5 206.7 729.2 211.1 734.0C215.5 738.8 220.2 744.1 224.4 747.2C228.6 750.3 233.0 751.6 236.4 752.8C239.8 754.0 241.9 755.0 244.9 754.5C247.9 754.0 252.1 751.3 254.6 749.7C257.1 748.1 258.4 746.8 260.0 744.8C261.6 742.8 262.9 740.8 264.2 738.0C265.5 735.2 266.8 732.3 268.0 728.3C269.2 724.3 270.4 718.8 271.5 714.0C272.6 709.2 273.7 704.3 274.5 699.3C275.3 694.3 276.1 688.5 276.5 684.0C276.9 679.5 276.4 672.7 277.2 672.0C277.9 671.3 280.3 665.9 281.0 680.0C281.7 694.1 282.0 743.7 281.2 756.5C280.4 769.3 278.7 756.6 276.0 757.0C273.3 757.4 268.5 758.4 265.0 759.0C261.5 759.6 257.8 760.2 255.0 760.5C252.2 760.8 251.6 760.5 248.5 760.8C245.4 761.1 241.4 761.5 236.4 762.3C231.4 763.1 224.3 764.5 218.3 765.6C212.3 766.8 205.0 768.2 200.2 769.2C195.4 770.2 192.3 770.4 189.3 771.6C186.3 772.8 184.5 773.4 182.1 776.5C179.7 779.6 176.8 786.1 174.8 790.0C172.8 793.9 171.6 796.5 170.0 800.0C168.4 803.5 167.4 805.1 165.3 810.8C163.2 816.5 159.8 828.5 157.5 834.2C155.2 839.9 153.4 842.9 151.6 845.0C149.8 847.1 148.3 847.1 146.7 846.9C145.1 846.7 144.0 847.4 141.9 844.0C139.8 840.6 136.6 832.2 134.0 826.4C131.4 820.5 128.8 813.8 126.2 808.9C123.6 804.0 121.0 800.0 118.4 797.2C115.8 794.4 114.5 793.9 110.6 792.3C106.7 790.7 100.8 788.7 95.0 787.4C89.2 786.1 81.9 785.1 75.5 784.5C69.1 783.9 59.7 783.7 56.5 783.5" stroke="#f01818" stroke-width="2.0" fill="none" stroke-linejoin="round" stroke-linecap="round"/>
<path d="M56.5 779.6C66.2 779.3 99.6 778.5 114.5 777.7C129.4 776.9 139.3 775.9 145.8 774.7C152.3 773.6 150.9 772.8 153.6 770.8C156.3 768.8 159.2 768.3 162.0 763.0C164.8 757.7 167.4 746.1 170.1 738.8C172.8 731.5 175.6 723.6 178.1 719.4C180.6 715.2 183.0 714.3 185.3 713.8C187.6 713.3 189.8 714.6 192.0 716.5C194.2 718.4 195.2 721.2 198.2 725.1C201.2 729.0 206.6 736.5 209.9 740.0C213.2 743.5 214.9 744.0 218.3 746.0C221.7 748.0 226.4 750.3 230.4 752.1C234.4 753.9 238.5 755.7 242.5 756.9C246.5 758.1 251.7 758.9 254.6 759.3C257.5 759.7 257.6 759.6 260.0 759.3C262.4 759.0 266.4 758.7 269.0 757.3C271.6 755.9 273.8 753.3 275.5 750.9C277.2 748.5 278.4 745.1 279.3 743.0C280.2 740.9 280.7 748.5 281.0 738.0C281.3 727.5 281.8 691.0 281.2 680.0C280.6 669.0 278.0 672.0 277.3 672.0C276.6 672.0 277.2 676.2 276.8 680.0C276.4 683.8 275.5 690.7 275.0 695.0C274.5 699.3 274.9 699.7 273.9 705.8C272.9 711.9 270.6 725.0 269.0 731.5C267.4 738.0 265.5 741.6 264.0 745.0C262.5 748.4 262.6 750.0 260.0 752.1C257.4 754.2 252.4 756.2 248.5 757.6C244.6 759.0 241.4 759.2 236.4 760.3C231.4 761.3 224.3 762.7 218.3 763.9C212.3 765.1 205.0 766.5 200.2 767.5C195.4 768.5 192.3 768.8 189.3 770.2C186.3 771.6 184.5 772.5 182.1 775.8C179.7 779.1 176.5 786.0 174.8 790.0C173.1 794.0 173.3 796.2 171.7 800.0C170.1 803.8 167.7 807.6 165.3 812.8C162.9 818.0 159.6 827.7 157.5 831.3C155.4 834.9 154.2 834.0 152.6 834.2C151.0 834.4 150.1 834.6 147.7 832.3C145.3 830.0 141.6 825.5 138.0 820.6C134.4 815.7 130.1 807.5 126.2 803.0C122.3 798.5 119.7 796.1 114.5 793.3C109.3 790.5 104.7 788.3 95.0 786.4C85.3 784.5 62.9 782.4 56.5 781.6" stroke="#22e022" stroke-width="2.0" fill="none" stroke-linejoin="round" stroke-linecap="round"/>
</g>
<g clip-path="url(#cliph)">
<path d="M355.8 859.2C363.1 859.2 387.5 859.2 399.8 859.2C412.1 859.2 423.1 859.2 429.8 859.2C436.5 859.1 437.0 859.1 439.8 859.0C442.6 859.0 444.6 858.9 446.8 858.7C449.0 858.5 450.9 858.3 452.8 857.9C454.6 857.6 456.2 857.1 457.9 856.6C459.6 856.1 461.2 855.6 462.8 854.9C464.4 854.2 466.2 853.5 467.6 852.4C469.1 851.3 470.3 849.7 471.5 848.2C472.7 846.7 473.7 845.1 474.8 843.4C475.9 841.8 476.6 840.1 477.9 838.4C479.2 836.7 481.1 833.7 482.7 833.1C484.3 832.4 485.7 832.9 487.6 834.6C489.5 836.3 491.6 840.5 494.0 843.2C496.4 845.9 499.4 849.1 502.1 850.9C504.8 852.8 507.1 853.8 510.1 854.3C513.0 854.8 516.6 854.8 519.8 854.0C523.0 853.2 526.3 850.7 529.5 849.5C532.7 848.2 536.1 847.2 539.1 846.6C542.0 846.0 544.0 845.7 547.2 845.9C550.4 846.2 554.4 847.3 558.4 848.0C562.4 848.8 567.4 849.9 571.3 850.4C575.2 850.9 580.0 850.8 581.8 850.9" stroke="#050505" stroke-width="2.0" fill="none" stroke-linejoin="round" stroke-linecap="round"/>
<path d="M355.8 859.2C363.1 859.2 390.5 859.2 399.8 859.2C409.1 859.2 408.1 859.2 411.8 859.1C415.5 859.0 418.7 858.9 421.8 858.7C424.9 858.5 428.0 858.3 430.5 857.9C433.0 857.5 434.6 857.1 436.8 856.6C439.0 856.1 441.1 855.6 443.4 854.8C445.7 854.0 448.1 852.8 450.8 851.7C453.5 850.6 456.1 849.6 459.5 848.0C462.9 846.5 468.2 844.5 471.5 842.2C474.8 840.0 477.5 837.3 479.5 834.6C481.5 831.9 482.3 828.8 483.7 825.9C485.0 823.0 486.3 819.6 487.6 817.2C488.9 814.9 490.2 812.5 491.4 811.7C492.6 810.9 493.6 811.3 494.7 812.5C495.8 813.7 496.6 815.4 498.1 818.8C499.6 822.1 502.0 828.4 503.7 832.6C505.4 836.8 506.9 841.2 508.5 844.2C510.1 847.3 511.4 849.3 513.3 850.9C515.2 852.5 517.1 853.7 519.8 854.0C522.5 854.3 526.3 853.7 529.5 852.9C532.7 852.0 535.6 850.1 539.1 849.0C542.6 847.9 546.6 846.5 550.4 846.3C554.2 846.1 558.2 847.4 561.7 848.0C565.2 848.7 567.9 849.6 571.3 850.1C574.6 850.6 580.0 850.8 581.8 850.9" stroke="#0808e8" stroke-width="2.0" fill="none" stroke-linejoin="round" stroke-linecap="round"/>
<path d="M355.5 755.7C355.7 755.4 356.3 753.8 356.8 753.9C357.3 754.0 357.7 756.0 358.6 756.6C359.5 757.2 359.8 758.1 362.2 757.8C364.6 757.5 368.2 756.2 373.0 754.8C377.8 753.4 384.9 751.3 390.9 749.4C396.9 747.5 404.4 744.9 408.9 743.1C413.4 741.3 414.9 740.6 417.9 738.6C420.9 736.6 423.9 733.9 426.9 731.4C429.9 728.9 433.1 725.8 435.8 723.4C438.5 721.0 440.9 718.6 443.0 717.1C445.1 715.6 446.6 714.4 448.4 714.4C450.2 714.4 452.0 715.8 453.8 717.1C455.6 718.5 457.1 721.0 459.2 722.5C461.3 724.0 464.4 725.4 466.4 726.0C468.4 726.6 468.5 726.4 471.1 726.0C473.7 725.6 477.0 725.7 482.2 723.4C487.4 721.1 497.3 715.3 502.3 712.3C507.3 709.3 509.2 707.3 512.4 705.2C515.6 703.1 519.1 700.6 521.5 699.8C523.9 699.0 524.0 701.0 526.5 700.6C529.0 700.2 533.9 698.5 536.6 697.1C539.3 695.7 540.9 694.0 542.7 692.1C544.6 690.2 546.5 687.7 547.7 686.0C548.9 684.3 549.6 682.7 550.0 682.0" stroke="#f2ee10" stroke-width="2.0" fill="none" stroke-linejoin="round" stroke-linecap="round"/>
<path d="M355.5 852.7C356.3 853.0 357.5 854.0 360.4 854.5C363.3 855.0 367.9 855.4 373.0 855.4C378.1 855.4 384.9 855.0 390.9 854.5C396.9 854.0 402.9 853.8 408.9 852.7C414.9 851.7 420.9 850.2 426.9 848.2C432.9 846.2 439.7 843.4 444.8 841.0C449.9 838.6 454.1 835.8 457.4 833.8C460.7 831.8 462.4 830.3 464.6 829.3C466.8 828.3 468.8 828.0 470.5 827.9C472.2 827.8 473.7 828.3 475.0 828.7C476.3 829.1 475.9 828.7 478.1 830.3C480.3 831.9 484.2 835.9 488.2 838.3C492.2 840.6 497.9 843.2 502.3 844.4C506.7 845.6 510.0 845.6 514.4 845.4C518.8 845.2 523.9 844.2 528.6 843.4C533.3 842.5 537.0 841.1 542.7 840.3C548.4 839.4 556.2 839.2 562.8 838.3C569.3 837.4 578.8 835.5 582.0 834.9" stroke="#22e022" stroke-width="2.0" fill="none" stroke-linejoin="round" stroke-linecap="round"/>
<path d="M355.5 859.0C365.3 858.9 402.4 859.4 414.3 858.6C426.2 857.9 422.4 856.2 426.9 854.5C431.4 852.8 436.7 850.2 441.2 848.2C445.7 846.2 449.9 844.1 453.8 842.8C457.7 841.5 461.6 841.1 464.6 840.5C467.7 839.9 469.2 840.8 472.1 839.3C475.0 837.8 479.7 833.8 482.2 831.3C484.7 828.8 485.5 825.9 487.0 824.0C488.5 822.1 489.9 820.6 491.2 820.2C492.5 819.8 493.8 820.7 495.0 821.5C496.2 822.3 496.4 821.9 498.3 825.2C500.2 828.5 503.7 837.0 506.4 841.4C509.1 845.8 511.7 849.4 514.4 851.4C517.1 853.4 519.5 853.5 522.5 853.5C525.5 853.5 528.6 852.6 532.6 851.4C536.6 850.2 542.3 847.1 546.7 846.4C551.1 845.7 552.9 847.0 558.8 847.4C564.7 847.8 578.1 848.7 582.0 849.0" stroke="#f01818" stroke-width="2.0" fill="none" stroke-linejoin="round" stroke-linecap="round"/>
</g>
<line x1="597.9" y1="60.6" x2="621.8" y2="60.6" stroke="#050505" stroke-width="1.6"/>
<text x="628.5" y="64.7" class="lg">SPCE unmodified</text>
<line x1="597.9" y1="80.8" x2="621.8" y2="80.8" stroke="#0808e8" stroke-width="1.6"/>
<text x="628.5" y="84.9" class="lg">SPCE/MOF Ti</text>
<line x1="597.9" y1="101.1" x2="621.8" y2="101.1" stroke="#f2ee10" stroke-width="1.6"/>
<text x="628.5" y="105.2" class="lg">SPCE/AQ</text>
<line x1="597.9" y1="121.3" x2="621.8" y2="121.3" stroke="#f01818" stroke-width="1.6"/>
<text x="628.5" y="125.4" class="lg">SPCE/MOF Ti/AQ</text>
<line x1="597.9" y1="141.6" x2="621.8" y2="141.6" stroke="#22e022" stroke-width="1.6"/>
<text x="628.5" y="145.7" class="lg">SPCE/AQ/MOF Ti</text>
<line x1="597.9" y1="282.9" x2="621.8" y2="282.9" stroke="#050505" stroke-width="1.6"/>
<text x="628.5" y="287.0" class="lg">SPCE unmodified</text>
<line x1="597.9" y1="303.1" x2="621.8" y2="303.1" stroke="#0808e8" stroke-width="1.6"/>
<text x="628.5" y="307.2" class="lg">SPCE/MOF Ti</text>
<line x1="597.9" y1="323.4" x2="621.8" y2="323.4" stroke="#f2ee10" stroke-width="1.6"/>
<text x="628.5" y="327.5" class="lg">SPCE/CA</text>
<line x1="597.9" y1="343.6" x2="621.8" y2="343.6" stroke="#f01818" stroke-width="1.6"/>
<text x="628.5" y="347.8" class="lg">SPCE/MOF Ti/CA</text>
<line x1="597.9" y1="363.9" x2="621.8" y2="363.9" stroke="#22e022" stroke-width="1.6"/>
<text x="628.5" y="368.0" class="lg">SPCE/CA/MOF Ti</text>
<line x1="597.9" y1="506.2" x2="621.8" y2="506.2" stroke="#050505" stroke-width="1.6"/>
<text x="628.5" y="510.3" class="lg">SPCE unmodified</text>
<line x1="597.9" y1="526.5" x2="621.8" y2="526.5" stroke="#0808e8" stroke-width="1.6"/>
<text x="628.5" y="530.6" class="lg">SPCE/MOF Ti</text>
<line x1="597.9" y1="546.7" x2="621.8" y2="546.7" stroke="#f2ee10" stroke-width="1.6"/>
<text x="628.5" y="550.8" class="lg">SPCE/Nafion</text>
<line x1="597.9" y1="567.0" x2="621.8" y2="567.0" stroke="#f01818" stroke-width="1.6"/>
<text x="628.5" y="571.1" class="lg">SPCE/MOF Ti/Nafion</text>
<line x1="597.9" y1="587.2" x2="621.8" y2="587.2" stroke="#22e022" stroke-width="1.6"/>
<text x="628.5" y="591.3" class="lg">SPCE/Nafion/MOF Ti</text>
<line x1="597.9" y1="728.7" x2="621.8" y2="728.7" stroke="#050505" stroke-width="1.6"/>
<text x="628.5" y="732.8" class="lg">SPCE unmodified</text>
<line x1="597.9" y1="749.0" x2="621.8" y2="749.0" stroke="#0808e8" stroke-width="1.6"/>
<text x="628.5" y="753.1" class="lg">SPCE/MOF Ti</text>
<line x1="597.9" y1="769.2" x2="621.8" y2="769.2" stroke="#f2ee10" stroke-width="1.6"/>
<text x="628.5" y="773.3" class="lg">SPCE/Chitosan</text>
<line x1="597.9" y1="789.5" x2="621.8" y2="789.5" stroke="#f01818" stroke-width="1.6"/>
<text x="628.5" y="793.6" class="lg">SPCE/MOF Ti/Chitosan</text>
<line x1="597.9" y1="809.7" x2="621.8" y2="809.7" stroke="#22e022" stroke-width="1.6"/>
<text x="628.5" y="813.8" class="lg">SPCE/Chitosan/MOF Ti</text>
<text x="72.6" y="36.4" class="pl">a</text>
<text transform="translate(73.4,55.2) scale(1.07,1)" x="0" y="0" class="sm" style="font-size:12.9px">[Fe(CN)<tspan font-size="8.8px" dy="3.3">6</tspan><tspan dy="-3.3">]</tspan><tspan font-size="8.3px" dy="-5.0" letter-spacing="0.85">3-/4-</tspan></text>
<text x="73.0" y="257.7" class="pl" style="font-size:12.3px">c</text>
<text transform="translate(73.8,276.9) scale(1.07,1)" x="0" y="0" class="sm" style="font-size:12.9px">[Fe(CN)<tspan font-size="8.8px" dy="3.3">6</tspan><tspan dy="-3.3">]</tspan><tspan font-size="8.3px" dy="-5.0" letter-spacing="0.85">3-/4-</tspan></text>
<text x="72.8" y="485.5" class="pl">e</text>
<text transform="translate(73.6,504.0) scale(1.07,1)" x="0" y="0" class="sm" style="font-size:12.9px">[Fe(CN)<tspan font-size="8.8px" dy="3.3">6</tspan><tspan dy="-3.3">]</tspan><tspan font-size="8.3px" dy="-5.0" letter-spacing="0.85">3-/4-</tspan></text>
<text x="72.8" y="705.0" class="pl" style="font-size:13.6px">g</text>
<text transform="translate(73.6,724.9) scale(1.07,1)" x="0" y="0" class="sm" style="font-size:12.9px">[Fe(CN)<tspan font-size="8.8px" dy="3.3">6</tspan><tspan dy="-3.3">]</tspan><tspan font-size="8.3px" dy="-5.0" letter-spacing="0.85">3-/4-</tspan></text>
<text x="376.6" y="35.5" class="pl">b</text>
<text x="376.0" y="54.9" class="sm">SMX</text>
<text x="376.0" y="259.1" class="pl">d</text>
<text x="375.4" y="277.0" class="sm">SMX</text>
<text x="376.0" y="486.0" class="pl">f</text>
<text x="375.4" y="504.3" class="sm">SMX</text>
<text x="376.6" y="706.1" class="pl">h</text>
<text x="376.0" y="724.9" class="sm">SMX</text>
<path d="M268.1 102.8L238.5 107.5M245.1 109.8L238.5 107.5L244.1 103.3" stroke="#222" stroke-width="1.1" fill="none"/>
<path d="M267.7 324.7L238.3 329.3M244.9 331.6L238.3 329.3L243.9 325.1" stroke="#222" stroke-width="1.1" fill="none"/>
<path d="M267.7 552.2L238.3 557.1M244.9 559.3L238.3 557.1L243.9 552.8" stroke="#222" stroke-width="1.1" fill="none"/>
<path d="M267.7 774.3L238.3 779.2M244.9 781.4L238.3 779.2L243.9 774.9" stroke="#222" stroke-width="1.1" fill="none"/>
<path d="M364.0 158.5L398.9 158.5M392.7 155.2L398.9 158.5L392.7 161.8" stroke="#222" stroke-width="1.1" fill="none"/>
<path d="M364.0 385.5L398.9 385.5M392.7 382.2L398.9 385.5L392.7 388.8" stroke="#222" stroke-width="1.1" fill="none"/>
<path d="M364.0 617.9L398.9 617.9M392.7 614.6L398.9 617.9L392.7 621.2" stroke="#555" stroke-width="1.1" fill="none"/>
<path d="M364.0 839.9L398.9 839.9M392.7 836.6L398.9 839.9L392.7 843.2" stroke="#555" stroke-width="1.1" fill="none"/>
<path d="M364.0 845.0L398.9 845.0M392.7 841.7L398.9 845.0L392.7 848.3" stroke="#555" stroke-width="1.1" fill="none"/>
<rect x="27.6" y="222" width="16.5" height="8.7" fill="#fff"/>
</svg>
</body></html>
